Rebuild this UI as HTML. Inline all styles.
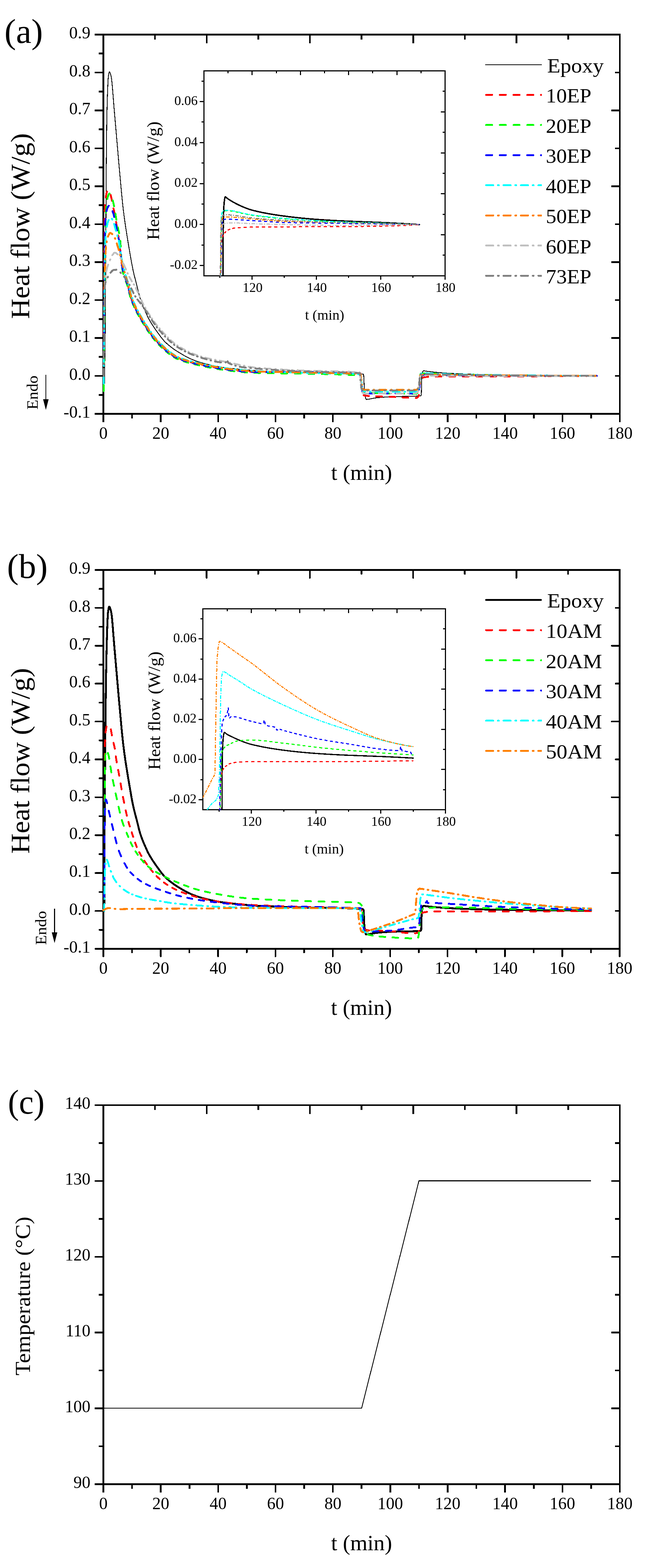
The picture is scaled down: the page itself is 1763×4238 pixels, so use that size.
<!DOCTYPE html>
<html lang="en"><head><meta charset="utf-8"><title>Heat flow figure</title>
<style>html,body{margin:0;padding:0;background:#fff}svg{display:block}</style></head>
<body>
<svg width="1763" height="4238" viewBox="0 0 1763 4238" font-family='"Liberation Serif", serif' fill="#000">
<rect width="1763" height="4238" fill="#fff"/>
<defs>
<clipPath id="ca"><rect x="276.5" y="93.5" width="1399.5" height="1025.0"/></clipPath>
<clipPath id="cia"><rect x="551.5" y="191.5" width="652.0" height="555.3"/></clipPath>
<clipPath id="cb"><rect x="276.5" y="1540.5" width="1399.0" height="1024.0"/></clipPath>
<clipPath id="cib"><rect x="548.6" y="1645.5" width="655.9" height="544.5"/></clipPath>
</defs>
<text x="12" y="115.7" font-size="94" text-anchor="start" textLength="104" lengthAdjust="spacingAndGlyphs">(a)</text>
<line x1="277.2" y1="93.5" x2="1678.3" y2="93.5" stroke="#000" stroke-width="4.6" stroke-linecap="butt" shape-rendering="crispEdges"/>
<line x1="277.2" y1="1118.5" x2="1678.3" y2="1118.5" stroke="#000" stroke-width="4.6" stroke-linecap="butt" shape-rendering="crispEdges"/>
<line x1="279.5" y1="91.2" x2="279.5" y2="1120.8" stroke="#000" stroke-width="4.6" stroke-linecap="butt" shape-rendering="crispEdges"/>
<line x1="1676" y1="91.2" x2="1676" y2="1120.8" stroke="#000" stroke-width="4.6" stroke-linecap="butt" shape-rendering="crispEdges"/>
<line x1="279.5" y1="1118.5" x2="279.5" y2="1141" stroke="#000" stroke-width="4.6" stroke-linecap="butt" shape-rendering="crispEdges"/>
<line x1="434.67" y1="1118.5" x2="434.67" y2="1141" stroke="#000" stroke-width="4.6" stroke-linecap="butt" shape-rendering="crispEdges"/>
<line x1="589.83" y1="1118.5" x2="589.83" y2="1141" stroke="#000" stroke-width="4.6" stroke-linecap="butt" shape-rendering="crispEdges"/>
<line x1="745" y1="1118.5" x2="745" y2="1141" stroke="#000" stroke-width="4.6" stroke-linecap="butt" shape-rendering="crispEdges"/>
<line x1="900.17" y1="1118.5" x2="900.17" y2="1141" stroke="#000" stroke-width="4.6" stroke-linecap="butt" shape-rendering="crispEdges"/>
<line x1="1055.33" y1="1118.5" x2="1055.33" y2="1141" stroke="#000" stroke-width="4.6" stroke-linecap="butt" shape-rendering="crispEdges"/>
<line x1="1210.5" y1="1118.5" x2="1210.5" y2="1141" stroke="#000" stroke-width="4.6" stroke-linecap="butt" shape-rendering="crispEdges"/>
<line x1="1365.67" y1="1118.5" x2="1365.67" y2="1141" stroke="#000" stroke-width="4.6" stroke-linecap="butt" shape-rendering="crispEdges"/>
<line x1="1520.83" y1="1118.5" x2="1520.83" y2="1141" stroke="#000" stroke-width="4.6" stroke-linecap="butt" shape-rendering="crispEdges"/>
<line x1="1676" y1="1118.5" x2="1676" y2="1141" stroke="#000" stroke-width="4.6" stroke-linecap="butt" shape-rendering="crispEdges"/>
<line x1="357.08" y1="1118.5" x2="357.08" y2="1130.5" stroke="#000" stroke-width="4.6" stroke-linecap="butt" shape-rendering="crispEdges"/>
<line x1="512.25" y1="1118.5" x2="512.25" y2="1130.5" stroke="#000" stroke-width="4.6" stroke-linecap="butt" shape-rendering="crispEdges"/>
<line x1="667.42" y1="1118.5" x2="667.42" y2="1130.5" stroke="#000" stroke-width="4.6" stroke-linecap="butt" shape-rendering="crispEdges"/>
<line x1="822.58" y1="1118.5" x2="822.58" y2="1130.5" stroke="#000" stroke-width="4.6" stroke-linecap="butt" shape-rendering="crispEdges"/>
<line x1="977.75" y1="1118.5" x2="977.75" y2="1130.5" stroke="#000" stroke-width="4.6" stroke-linecap="butt" shape-rendering="crispEdges"/>
<line x1="1132.92" y1="1118.5" x2="1132.92" y2="1130.5" stroke="#000" stroke-width="4.6" stroke-linecap="butt" shape-rendering="crispEdges"/>
<line x1="1288.08" y1="1118.5" x2="1288.08" y2="1130.5" stroke="#000" stroke-width="4.6" stroke-linecap="butt" shape-rendering="crispEdges"/>
<line x1="1443.25" y1="1118.5" x2="1443.25" y2="1130.5" stroke="#000" stroke-width="4.6" stroke-linecap="butt" shape-rendering="crispEdges"/>
<line x1="1598.42" y1="1118.5" x2="1598.42" y2="1130.5" stroke="#000" stroke-width="4.6" stroke-linecap="butt" shape-rendering="crispEdges"/>
<line x1="279.5" y1="1118.5" x2="256" y2="1118.5" stroke="#000" stroke-width="4.6" stroke-linecap="butt" shape-rendering="crispEdges"/>
<line x1="279.5" y1="1016" x2="256" y2="1016" stroke="#000" stroke-width="4.6" stroke-linecap="butt" shape-rendering="crispEdges"/>
<line x1="279.5" y1="913.5" x2="256" y2="913.5" stroke="#000" stroke-width="4.6" stroke-linecap="butt" shape-rendering="crispEdges"/>
<line x1="279.5" y1="811" x2="256" y2="811" stroke="#000" stroke-width="4.6" stroke-linecap="butt" shape-rendering="crispEdges"/>
<line x1="279.5" y1="708.5" x2="256" y2="708.5" stroke="#000" stroke-width="4.6" stroke-linecap="butt" shape-rendering="crispEdges"/>
<line x1="279.5" y1="606" x2="256" y2="606" stroke="#000" stroke-width="4.6" stroke-linecap="butt" shape-rendering="crispEdges"/>
<line x1="279.5" y1="503.5" x2="256" y2="503.5" stroke="#000" stroke-width="4.6" stroke-linecap="butt" shape-rendering="crispEdges"/>
<line x1="279.5" y1="401" x2="256" y2="401" stroke="#000" stroke-width="4.6" stroke-linecap="butt" shape-rendering="crispEdges"/>
<line x1="279.5" y1="298.5" x2="256" y2="298.5" stroke="#000" stroke-width="4.6" stroke-linecap="butt" shape-rendering="crispEdges"/>
<line x1="279.5" y1="196" x2="256" y2="196" stroke="#000" stroke-width="4.6" stroke-linecap="butt" shape-rendering="crispEdges"/>
<line x1="279.5" y1="93.5" x2="256" y2="93.5" stroke="#000" stroke-width="4.6" stroke-linecap="butt" shape-rendering="crispEdges"/>
<line x1="279.5" y1="1067.25" x2="266.5" y2="1067.25" stroke="#000" stroke-width="4.6" stroke-linecap="butt" shape-rendering="crispEdges"/>
<line x1="279.5" y1="964.75" x2="266.5" y2="964.75" stroke="#000" stroke-width="4.6" stroke-linecap="butt" shape-rendering="crispEdges"/>
<line x1="279.5" y1="862.25" x2="266.5" y2="862.25" stroke="#000" stroke-width="4.6" stroke-linecap="butt" shape-rendering="crispEdges"/>
<line x1="279.5" y1="759.75" x2="266.5" y2="759.75" stroke="#000" stroke-width="4.6" stroke-linecap="butt" shape-rendering="crispEdges"/>
<line x1="279.5" y1="657.25" x2="266.5" y2="657.25" stroke="#000" stroke-width="4.6" stroke-linecap="butt" shape-rendering="crispEdges"/>
<line x1="279.5" y1="554.75" x2="266.5" y2="554.75" stroke="#000" stroke-width="4.6" stroke-linecap="butt" shape-rendering="crispEdges"/>
<line x1="279.5" y1="452.25" x2="266.5" y2="452.25" stroke="#000" stroke-width="4.6" stroke-linecap="butt" shape-rendering="crispEdges"/>
<line x1="279.5" y1="349.75" x2="266.5" y2="349.75" stroke="#000" stroke-width="4.6" stroke-linecap="butt" shape-rendering="crispEdges"/>
<line x1="279.5" y1="247.25" x2="266.5" y2="247.25" stroke="#000" stroke-width="4.6" stroke-linecap="butt" shape-rendering="crispEdges"/>
<line x1="279.5" y1="144.75" x2="266.5" y2="144.75" stroke="#000" stroke-width="4.6" stroke-linecap="butt" shape-rendering="crispEdges"/>
<line x1="279.5" y1="93.5" x2="279.5" y2="117" stroke="#000" stroke-width="4.6" stroke-linecap="butt" shape-rendering="crispEdges"/>
<line x1="419.15" y1="93.5" x2="419.15" y2="106.5" stroke="#000" stroke-width="4.6" stroke-linecap="butt" shape-rendering="crispEdges"/>
<line x1="558.8" y1="93.5" x2="558.8" y2="117" stroke="#000" stroke-width="4.6" stroke-linecap="butt" shape-rendering="crispEdges"/>
<line x1="698.45" y1="93.5" x2="698.45" y2="106.5" stroke="#000" stroke-width="4.6" stroke-linecap="butt" shape-rendering="crispEdges"/>
<line x1="838.1" y1="93.5" x2="838.1" y2="117" stroke="#000" stroke-width="4.6" stroke-linecap="butt" shape-rendering="crispEdges"/>
<line x1="977.75" y1="93.5" x2="977.75" y2="106.5" stroke="#000" stroke-width="4.6" stroke-linecap="butt" shape-rendering="crispEdges"/>
<line x1="1117.4" y1="93.5" x2="1117.4" y2="117" stroke="#000" stroke-width="4.6" stroke-linecap="butt" shape-rendering="crispEdges"/>
<line x1="1257.05" y1="93.5" x2="1257.05" y2="106.5" stroke="#000" stroke-width="4.6" stroke-linecap="butt" shape-rendering="crispEdges"/>
<line x1="1396.7" y1="93.5" x2="1396.7" y2="117" stroke="#000" stroke-width="4.6" stroke-linecap="butt" shape-rendering="crispEdges"/>
<line x1="1536.35" y1="93.5" x2="1536.35" y2="106.5" stroke="#000" stroke-width="4.6" stroke-linecap="butt" shape-rendering="crispEdges"/>
<line x1="1676" y1="93.5" x2="1676" y2="117" stroke="#000" stroke-width="4.6" stroke-linecap="butt" shape-rendering="crispEdges"/>
<line x1="1676" y1="93.5" x2="1652.5" y2="93.5" stroke="#000" stroke-width="4.6" stroke-linecap="butt" shape-rendering="crispEdges"/>
<line x1="1676" y1="196" x2="1663" y2="196" stroke="#000" stroke-width="4.6" stroke-linecap="butt" shape-rendering="crispEdges"/>
<line x1="1676" y1="298.5" x2="1652.5" y2="298.5" stroke="#000" stroke-width="4.6" stroke-linecap="butt" shape-rendering="crispEdges"/>
<line x1="1676" y1="401" x2="1663" y2="401" stroke="#000" stroke-width="4.6" stroke-linecap="butt" shape-rendering="crispEdges"/>
<line x1="1676" y1="503.5" x2="1652.5" y2="503.5" stroke="#000" stroke-width="4.6" stroke-linecap="butt" shape-rendering="crispEdges"/>
<line x1="1676" y1="606" x2="1663" y2="606" stroke="#000" stroke-width="4.6" stroke-linecap="butt" shape-rendering="crispEdges"/>
<line x1="1676" y1="708.5" x2="1652.5" y2="708.5" stroke="#000" stroke-width="4.6" stroke-linecap="butt" shape-rendering="crispEdges"/>
<line x1="1676" y1="811" x2="1663" y2="811" stroke="#000" stroke-width="4.6" stroke-linecap="butt" shape-rendering="crispEdges"/>
<line x1="1676" y1="913.5" x2="1652.5" y2="913.5" stroke="#000" stroke-width="4.6" stroke-linecap="butt" shape-rendering="crispEdges"/>
<line x1="1676" y1="1016" x2="1663" y2="1016" stroke="#000" stroke-width="4.6" stroke-linecap="butt" shape-rendering="crispEdges"/>
<line x1="1676" y1="1118.5" x2="1652.5" y2="1118.5" stroke="#000" stroke-width="4.6" stroke-linecap="butt" shape-rendering="crispEdges"/>
<text x="244.5" y="1129.1" font-size="46" text-anchor="end">-0.1</text>
<text x="244.5" y="1026.6" font-size="46" text-anchor="end">0.0</text>
<text x="244.5" y="924.1" font-size="46" text-anchor="end">0.1</text>
<text x="244.5" y="821.6" font-size="46" text-anchor="end">0.2</text>
<text x="244.5" y="719.1" font-size="46" text-anchor="end">0.3</text>
<text x="244.5" y="616.6" font-size="46" text-anchor="end">0.4</text>
<text x="244.5" y="514.1" font-size="46" text-anchor="end">0.5</text>
<text x="244.5" y="411.6" font-size="46" text-anchor="end">0.6</text>
<text x="244.5" y="309.1" font-size="46" text-anchor="end">0.7</text>
<text x="244.5" y="206.6" font-size="46" text-anchor="end">0.8</text>
<text x="244.5" y="104.1" font-size="46" text-anchor="end">0.9</text>
<text x="279.5" y="1186" font-size="46" text-anchor="middle">0</text>
<text x="434.67" y="1186" font-size="46" text-anchor="middle">20</text>
<text x="589.83" y="1186" font-size="46" text-anchor="middle">40</text>
<text x="745" y="1186" font-size="46" text-anchor="middle">60</text>
<text x="900.17" y="1186" font-size="46" text-anchor="middle">80</text>
<text x="1055.33" y="1186" font-size="46" text-anchor="middle">100</text>
<text x="1210.5" y="1186" font-size="46" text-anchor="middle">120</text>
<text x="1365.67" y="1186" font-size="46" text-anchor="middle">140</text>
<text x="1520.83" y="1186" font-size="46" text-anchor="middle">160</text>
<text x="1676" y="1186" font-size="46" text-anchor="middle">180</text>
<text x="977.75" y="1297" font-size="59" text-anchor="middle" textLength="165" lengthAdjust="spacingAndGlyphs">t (min)</text>
<text transform="translate(79.2 611) rotate(-90)" font-size="72.5" text-anchor="middle" textLength="502" lengthAdjust="spacingAndGlyphs">Heat flow (W/g)</text>
<text transform="translate(102 1107) rotate(-90)" font-size="42" text-anchor="start" textLength="92" lengthAdjust="spacingAndGlyphs">Endo</text>
<line x1="124" y1="1013" x2="124" y2="1083" stroke="#000" stroke-width="2" stroke-linecap="butt" shape-rendering="crispEdges"/>
<path d="M116.5 1079 L131.5 1079 L124 1108 Z" fill="#000"/>
<path d="M282.6 1036.5L284.45 898.49L285.46 757.73L287.1 471.52L288.6 336.97L289.2 304.69L289.97 275.56L290.9 246.08L291.84 223.53L292.46 212.92L293.08 206.25L294.59 196.88L295.19 194.73L295.79 193.95L296.24 194.12L296.69 194.59L297.74 196.72L298.95 200.47L300.45 206.25L301.53 212.32L302.77 222.89L304.48 241.9L308.52 293.17L321.71 445.13L329.15 526.54L331.48 549.62L333.65 568.86L336.29 589.42L339.08 609.26L345.91 652.33L352.38 690.67L356.21 712.15L359.57 729.22L362.94 743.95L370.59 773.31L376.48 797.24L378.92 805.63L381.81 814.47L386.85 827.93L394.85 846.29L400.24 857.9L405.18 867.01L412.6 879.12L421.41 892.04L435.02 910.73L439.5 916.42L443.68 921.25L446.77 924.47L451.42 928.85L460.89 936.85L470.82 944.17L482.45 951.76L497.3 960.61L510.44 967.55L522.19 972.81L534.86 977.4L543.2 979.98L552 982.41L574.16 987.68L593.87 991.56L603.18 993.05L611.64 994.17L648.8 998.16L672.23 1000.35L689.92 1001.61L721.41 1003.22L765.17 1004.94L831.11 1007.02L855.76 1007.49L911.41 1008.15L936.83 1008.71L960.86 1009.66L981.16 1010.93L981.78 1011.24L982.56 1012.01L983.18 1012.92L983.34 1013.63L983.8 1020.22L985.04 1050.08L985.51 1057L986.75 1066.47L987.99 1073.87L989.08 1078.04L989.7 1079.26L990.16 1079.55L993.71 1079.39L997.72 1078.9L1010.99 1076.29L1015.77 1075.54L1030.51 1074.08L1044.63 1072.98L1066.82 1071.96L1115.69 1071.1L1127.64 1070.55L1137.71 1069.78L1138.28 1069.24L1138.84 1068.06L1139.12 1067.25L1139.26 1065.79L1140.68 1016L1141.61 1009.41L1142.54 1005.71L1144.06 1003.23L1144.81 1002.5L1145.57 1002.17L1147.09 1002.27L1150.61 1002.96L1157.07 1003.85L1172.02 1005.6L1185.36 1006.92L1202.74 1008.34L1235.17 1010.01L1276.45 1011.47L1328.74 1012.77L1383.2 1013.69L1613.93 1016" fill="none" stroke="#000" stroke-width="2.2" stroke-linejoin="round" stroke-linecap="round" shape-rendering="crispEdges" clip-path="url(#ca)"/>
<path d="M280.43 1016L280.49 999.7M280.57 978.9L280.63 962.6M280.71 941.8L280.78 925.5M280.86 904.7L280.93 888.4M281.02 867.6L281.09 851.3M281.18 830.5L281.26 814.2M281.36 793.4L281.44 777.1M281.55 756.3L281.64 740M281.76 719.2L281.86 702.9M281.99 682.1L282.09 665.8M282.22 645L282.33 628.7M282.48 607.91L282.61 591.61M282.85 570.81L283.57 554.53M286.01 533.89L287.88 523.01L289.11 517.9M299.2 526.93L301.53 536.61L302.82 542.82M306.88 563.22L310.28 579.16M313.91 599.64L316.34 615.76M319.65 636.29L322.25 652.39M324.79 673.03L326.44 689.24M328.73 709.92L329.78 716.91L331.64 725.95M337.22 745.98L342.42 760.71M347.21 776.73L350.26 789.97M354.96 806.08L359.46 817.88M365.8 832.33L371.27 843.16M378.78 856.46L384.89 866.64M392.77 879.56L399.14 889.5M407.6 901.83L414.6 911.13M424.19 922.34L432.27 930.56M442.88 940.76L451.52 948.41M463.23 957.5L468.28 960.87L473.23 963.8M487.61 970.23L499.72 974.42M515.94 979L529.1 982.14M546.16 985.87L559.65 988.68M577.09 992.04L590.98 994.45M609.05 997.19L623.53 999M642.1 1001.24L656.77 1002.87M676.06 1004.38L692.01 1004.73M712.81 1004.73L729.11 1004.73M749.91 1004.73L766.21 1004.73M787.01 1004.73L803.31 1004.73M824.11 1004.73L840.35 1004.78M860.96 1004.98L877.01 1005.23M897.38 1005.66L913.26 1006.07M933.43 1006.71L949.16 1007.28M969.1 1008.13L973.11 1008.57L974.8 1008.97L975.4 1011.78L976.01 1017.52M977.4 1036.93L978.46 1052.18M983.25 1068.19L984.58 1068.87L985.97 1069.26L997.42 1070.31M1017.23 1071.3L1033.12 1071.71M1053.34 1072.29L1068.87 1073.06M1088.55 1074.19L1104.08 1074.95M1124.39 1075.45L1127.16 1075.26L1128.23 1074.76L1129.31 1073.94L1130.69 1072.36L1131.92 1070.45L1132.53 1069.3L1132.87 1067.64M1134.33 1048.29L1135.62 1033.29M1143.5 1020.37L1149.93 1019.08L1157.72 1018.28M1177.81 1017.57L1193.91 1017.38M1214.61 1017.28L1230.87 1017.24M1251.64 1017.2L1267.92 1017.18M1288.7 1017.16L1304.98 1017.15M1325.76 1017.13L1342.05 1017.11M1362.83 1017.1L1379.12 1017.09M1399.9 1017.07L1416.19 1017.06M1436.97 1017.03L1453.24 1017.01M1474 1016.97L1490.25 1016.92M1510.98 1016.85L1527.21 1016.78M1547.91 1016.68L1564.12 1016.59M1584.72 1016.39L1600.81 1016.18" fill="none" stroke="#ff0000" stroke-width="5" stroke-linejoin="round" stroke-linecap="round" shape-rendering="crispEdges" clip-path="url(#ca)"/>
<path d="M280.43 1057L280.57 1040.7M280.75 1019.9L280.9 1003.6M281.08 982.8L281.23 966.5M281.42 945.7L281.57 929.41M281.77 908.61L281.92 892.31M282.13 871.51L282.28 855.21M282.48 834.41L282.64 818.11M282.83 797.31L282.98 781.01M283.18 760.21L283.35 743.91M283.57 723.11L283.76 706.82M284.03 686.02L284.29 669.72M284.65 648.92L284.95 632.63M285.37 611.83L285.76 595.53M286.51 574.75L287.57 558.48M290.14 537.86L291.6 531.6L293 527.35L294.24 525.03L295.4 523.62L296.15 523.07M304.78 541.46L306.46 547.66L308.39 557.35M312.06 577.82L314.68 593.91M318.48 614.35L322.22 630.22M325.26 650.78L326.31 667.05M327.36 687.82L328.22 704.1M330.19 724.79L331.85 733.61L333.48 740.75M340.27 760.39L342.92 767L344.95 773.02M349.1 789.66L352.36 802.71M357.88 817.99L362.69 829.48M369.45 843.52L375.21 854.06M382.94 867.13L389.08 877.29M397.11 890.06L403.64 899.83M412.39 911.88L419.71 920.86M429.81 931.56L438.03 939.64M448.9 949.57L457.86 956.91M470.21 965.36L475.64 968.36L481.03 970.84M496.19 976.48L508.71 980.26M525.33 984.44L538.66 987.41M555.81 991.05L569.42 993.75M587.03 996.94L601.09 999.18M619.43 1001.64L634.04 1003.33M652.82 1005.35L667.79 1006.67M687.51 1007.76L703.4 1008.17M723.82 1008.55L739.89 1008.78M760.46 1009.01L776.58 1009.19M797.14 1009.43L813.19 1009.68M833.6 1010.07L849.58 1010.39M869.94 1010.83L885.86 1011.21M906.1 1011.76L921.9 1012.27M941.94 1013.03L957.55 1013.72M975.31 1016.76L976 1021.53L976.98 1031.39M978.73 1050.44L979.32 1055.09L979.93 1057.75L981.94 1060.03L983.98 1061.48M1003.65 1062.62L1019.73 1062.84M1040.38 1062.99L1056.5 1063.17M1076.93 1063.53L1092.93 1063.84M1113.45 1064.12L1125.85 1064.16L1127.23 1063.78L1128.48 1062.96M1133.8 1047.48L1135.13 1032.51M1136.39 1012.97L1136.56 1012.21L1137.47 1011.01L1138.38 1010.25L1139.44 1009.76L1143.62 1009.1L1148.73 1009.04M1168.99 1009.58L1184.58 1010.3M1204.49 1011.19L1220.32 1011.66M1240.61 1012.17L1256.55 1012.53M1276.94 1012.94L1292.97 1013.21M1313.46 1013.52L1329.54 1013.74M1350.08 1014L1366.19 1014.18M1386.78 1014.4L1402.93 1014.55M1423.55 1014.73L1439.73 1014.85M1460.39 1014.99L1476.58 1015.1M1497.25 1015.23L1513.44 1015.34M1534.1 1015.47L1550.3 1015.58M1570.96 1015.72L1587.15 1015.83M1607.82 1015.96L1613.93 1016" fill="none" stroke="#00ff00" stroke-width="5" stroke-linejoin="round" stroke-linecap="round" shape-rendering="crispEdges" clip-path="url(#ca)"/>
<path d="M280.43 1016L280.53 999.7M280.65 978.9L280.76 962.6M280.89 941.8L280.99 925.5M281.13 904.7L281.24 888.4M281.38 867.6L281.5 851.3M281.65 830.5L281.78 814.2M281.95 793.41L282.1 777.11M282.3 756.31L282.47 740.01M282.73 719.21L282.93 702.91M283.2 682.11L283.43 665.81M283.74 645.02L284.02 628.72M284.47 607.92L284.78 598.7L285.22 591.64M287.82 571.02L289.28 565.68L290.67 561.78L292.22 558.6L294.02 556.11M304.27 571L306.64 577.62L308.93 586.6M313.39 606.91L316.62 622.89M320.53 643.32L323.28 659.38M325.7 680.04L327.25 696.27M329.61 716.93L331.16 724.92L332.99 732.87M339.13 752.73L343.92 766.29M348.37 782.64L351.43 795.88M356.58 811.53L361.23 823.18M367.78 837.42L373.4 848.11M381.04 861.27L387.16 871.45M395.11 884.3L401.55 894.15M410.16 906.35L417.3 915.51M427.17 926.44L435.32 934.59M446.05 944.66L454.84 952.17M466.84 960.97L472.15 964.22L477.21 966.9M492.03 972.88L504.35 976.85M520.79 981.22L534.05 984.26M551.15 987.96L564.7 990.71M582.22 993.99L596.19 996.32M614.39 998.92L628.94 1000.67M647.51 1002.89L662.29 1004.42M681.87 1005.64L698.06 1005.75M718.86 1005.75L735.16 1005.75M755.96 1005.75L772.26 1005.75M793.06 1005.75L809.36 1005.75M830.15 1005.76L846.36 1005.85M866.92 1006.08L882.95 1006.36M903.28 1006.83L919.14 1007.27M939.27 1007.94L954.98 1008.53M974.49 1009.82L974.95 1010.32L975.4 1012.43L976.6 1024M978.1 1043.31L979.02 1053.36L979.71 1058M995.36 1063.15L1011.66 1063.15M1032.46 1063.15L1048.76 1063.15M1069.56 1063.15L1085.86 1063.15M1106.66 1063.15L1122.96 1063.15M1133.44 1052.83L1135.12 1038.21M1136.55 1018.84L1136.95 1016.31L1138.04 1014.8L1139.12 1013.98L1142.23 1013.51L1147.34 1013.34M1168.01 1013.47L1184.1 1013.68M1204.6 1013.98L1220.7 1014.18M1241.22 1014.46L1257.3 1014.68M1277.88 1014.9L1294.07 1015.01M1314.77 1015.1L1331.01 1015.17M1351.74 1015.23L1368 1015.28M1388.74 1015.34L1404.99 1015.39M1425.73 1015.45L1441.99 1015.49M1462.74 1015.54L1479 1015.58M1499.75 1015.63L1516 1015.68M1536.74 1015.74L1552.99 1015.79M1573.72 1015.86L1589.96 1015.92M1610.69 1015.99L1613.93 1016" fill="none" stroke="#0000ff" stroke-width="5" stroke-linejoin="round" stroke-linecap="round" shape-rendering="crispEdges" clip-path="url(#ca)"/>
<path d="M280.43 1036.5L280.55 1017.4M280.63 1004.5L280.64 1002.3M280.72 989.4L280.84 970.3M280.92 957.4L280.94 955.2M281.02 942.3L281.15 923.2M281.24 910.3L281.25 908.1M281.34 895.2L281.48 876.1M281.57 863.2L281.59 861M281.69 848.1L281.85 829M281.96 816.11L281.98 813.91M282.1 801.01L282.31 781.91M282.47 769.01L282.5 766.81M282.7 753.91L283.02 734.81M283.25 721.91L283.29 719.72M283.54 706.82L283.95 687.72M284.26 674.83L284.32 672.63M284.69 659.73L285.45 640.65M286.53 627.79L286.78 625.61M288.87 612.88L290.31 605.98L291.66 600.64L292.86 597.05L294.09 594.59M302.69 591.57L303.82 593.45M308.55 605.4L313.63 623.82M317.05 636.25L317.73 638.34M321.31 650.73L322.48 657.2L324.19 669.6M325.97 682.38L326.32 684.55M328.4 697.28L330.34 708.23L331.95 716.05M335.09 728.56L335.68 730.68M339.44 743.02L344.58 758.76M347.55 768.69L348.03 770.41M350.58 780.76L354.27 796.17M357.54 805.8L358.13 807.41M361.75 816.69L367.59 829.95M371.87 838.57L372.63 840.01M377.2 848.34L384.27 860.36M389.13 868.41L389.96 869.78M394.87 877.77L402.36 889.38M407.59 897.04L408.5 898.33M413.97 905.77L422.53 916.31M428.74 923L429.83 924.1M436.28 930.55L446.08 939.86M452.93 945.91L454.12 946.91M461.3 952.63L467.12 956.79L472.7 960.34M481.17 964.77L482.7 965.44M491.96 969.08L498.89 971.48L506.34 973.79M516.45 976.58L518.21 977.03M528.6 979.53L544.25 982.99M554.88 985.25L556.7 985.63M567.44 987.8L583.53 990.8M594.56 992.67L596.46 992.98M607.66 994.67L624.59 996.85M636.2 998.13L638.19 998.34M649.92 999.52L667.47 1001.06M679.48 1001.95L681.54 1002.09M693.71 1002.82L711.86 1003.77M724.18 1004.35L726.29 1004.45M738.65 1004.98L757.03 1005.71M769.48 1006.16L771.61 1006.23M784.09 1006.65L802.61 1007.22M815.15 1007.59L817.29 1007.65M829.84 1007.99L848.53 1008.4M861.21 1008.63L863.37 1008.66M876.08 1008.86L894.89 1009.15M907.58 1009.36L909.74 1009.4M922.38 1009.65L941.01 1010.13M953.5 1010.54L955.62 1010.61M968 1011.13L972.35 1011.54L974.8 1012.02L975.55 1014.97L976.39 1021.84M977.49 1033.64L977.67 1035.66M978.83 1047.4L979.47 1051.9L980.08 1053.92L981.94 1055.93L983.65 1057.21L985.35 1057.91L987.29 1058.04M1000 1058.24L1002.17 1058.26M1014.97 1058.36L1034 1058.44M1046.85 1058.49L1049.04 1058.5M1061.85 1058.59L1080.77 1058.77M1093.55 1058.89L1095.73 1058.91M1108.54 1059L1125.31 1059.05L1127.05 1058.51M1132.4 1050.97L1132.79 1049.15M1134.38 1037.85L1135.46 1019.83M1138.27 1009.74L1140.01 1009.28M1152.4 1008.88L1170.92 1009.46M1183.25 1010.03L1185.35 1010.14M1197.67 1010.71L1216.15 1011.34M1228.72 1011.67L1230.86 1011.72M1243.46 1012.03L1262.15 1012.44M1274.8 1012.69L1276.96 1012.73M1289.63 1012.95L1308.43 1013.26M1321.13 1013.45L1323.3 1013.48M1336.02 1013.67L1354.87 1013.92M1367.61 1014.07L1369.78 1014.1M1382.54 1014.24L1401.45 1014.43M1414.24 1014.55L1416.42 1014.57M1429.22 1014.67L1448.18 1014.8M1461 1014.89L1463.18 1014.9M1476 1014.98L1494.98 1015.1M1507.79 1015.19L1509.98 1015.21M1522.79 1015.3L1541.75 1015.44M1554.55 1015.54L1556.73 1015.55M1569.53 1015.65L1588.49 1015.8M1601.29 1015.9L1603.47 1015.92" fill="none" stroke="#00ffff" stroke-width="5" stroke-linejoin="round" stroke-linecap="round" shape-rendering="crispEdges" clip-path="url(#ca)"/>
<path d="M280.43 1016L280.58 997.1M280.68 984L280.69 982M280.79 968.9L280.94 950M281.05 936.9L281.07 934.9M281.17 921.8L281.34 902.9M281.45 889.8L281.47 887.8M281.59 874.7L281.77 855.81M281.91 842.71L281.93 840.71M282.08 827.61L282.32 808.71M282.52 795.61L282.55 793.61M282.79 780.51L283.15 761.62M283.43 748.52L283.47 746.52M283.77 733.42L284.25 714.53M284.64 701.44L284.71 699.44M285.22 686.35L285.71 677.75L286.59 667.5M288.36 654.52L288.73 652.56M291.82 639.83L293.01 636.66L294.86 633.08L296.26 630.88L297.34 629.82L298.43 629.59L299.98 630.1L301.53 631.18L303.48 633.02M310.93 643.7L311.77 645.51M315.78 657.96L321.35 676.02M324.92 688.62L325.38 690.56M328.23 703.35L329.93 710.55L332.88 721.67M336.48 734.26L337.05 736.18M340.79 748.73L345.19 763.86M347.98 774.17L348.38 775.77M350.83 786.41L352.97 795.3L354.81 801.33M358.3 810.95L358.85 812.39M362.64 821.71L368.59 834.65M373.05 843.29L373.76 844.59M378.49 852.96L385.55 864.79M390.49 872.96L391.25 874.2M396.28 882.26L403.78 893.67M409.17 901.37L410.01 902.53M415.66 909.98L420 915.3L424.33 920.21M430.77 926.87L431.77 927.87M438.37 934.37L448.17 943.47M455.24 949.5L456.35 950.4M463.8 956.05L469.75 960.04L475.41 963.33M484.37 967.48L485.79 968.05M495.36 971.58L509.81 976.03M520.2 978.74L521.81 979.14M532.44 981.6L547.96 984.98M558.8 987.25L560.46 987.58M571.41 989.74L587.41 992.64M598.67 994.47L600.4 994.74M611.86 996.38L628.71 998.43M640.5 999.75L642.3 999.94M654.19 1001.15L671.61 1002.63M683.93 1003.41L685.84 1003.5M698.44 1004L716.76 1004.59M729.52 1004.93L731.47 1004.98M744.28 1005.27L762.81 1005.63M775.68 1005.87L777.64 1005.9M790.51 1006.14L809.06 1006.49M821.88 1006.76L823.84 1006.8M836.68 1007.07L855.25 1007.39M868.15 1007.6L870.12 1007.63M883.01 1007.83L901.6 1008.15M914.44 1008.4L916.4 1008.44M929.19 1008.75L947.54 1009.3M960.18 1009.77L962.1 1009.84M974.24 1010.8L974.65 1010.88L974.95 1011.25L975.55 1013.72L977.09 1026.85M978.26 1038.78L978.46 1040.58M981.12 1051.02L983.34 1052.93L985.51 1053.85L997.12 1053.92M1010.22 1053.92L1012.22 1053.92M1025.32 1053.92L1044.22 1053.92M1057.32 1053.92L1059.32 1053.92M1072.42 1053.92L1091.32 1053.92M1104.42 1053.92L1106.42 1053.92M1119.52 1053.92L1125.31 1053.92L1126.69 1053.53L1127.92 1052.68L1129.15 1051.44L1131.94 1047.45M1134.51 1036.91L1134.66 1035.07M1135.43 1022.74L1136.03 1015.59L1136.62 1014.48L1137.81 1013.32L1139.01 1012.7L1143.82 1012.22M1156.8 1012.21L1158.78 1012.23M1171.68 1012.43L1190.18 1012.83M1203.01 1013.1L1204.97 1013.14M1217.86 1013.35L1236.45 1013.66M1249.33 1013.87L1251.3 1013.9M1264.21 1014.09L1282.89 1014.31M1295.89 1014.42L1297.87 1014.43M1310.88 1014.52L1329.68 1014.63M1342.71 1014.7L1344.7 1014.71M1357.74 1014.77L1376.56 1014.85M1389.6 1014.91L1391.59 1014.92M1404.63 1014.98L1423.44 1015.06M1436.49 1015.12L1438.48 1015.13M1451.52 1015.18L1470.34 1015.26M1483.39 1015.32L1485.38 1015.33M1498.42 1015.38L1517.24 1015.47M1530.27 1015.53L1532.26 1015.54M1545.29 1015.61L1564.09 1015.71M1577.12 1015.79L1579.11 1015.8M1592.13 1015.87L1610.92 1015.98" fill="none" stroke="#ff8000" stroke-width="5.2" stroke-linejoin="round" stroke-linecap="round" shape-rendering="crispEdges" clip-path="url(#ca)"/>
<path d="M280.43 1016L280.58 996.9M280.68 984L280.69 981.8M280.8 968.9L280.95 949.8M281.06 936.9L281.08 934.7M281.2 921.8L281.38 902.7M281.51 889.8L281.53 887.6M281.68 874.71L281.91 855.61M282.08 842.71L282.11 840.51M282.28 827.61L282.55 808.51M282.75 795.61L282.79 793.41M283.04 780.52L283.38 770L283.91 761.44M285.09 748.59L285.37 746.41M287.45 733.68L289.59 724.15L292.29 715.22M297.23 703.31L298.13 701.3M303.78 689.73L307.59 684.63L308.98 683.41L310.22 682.9L311.77 683.04L313.64 683.84L315.65 685.27L318.18 687.6M326 697.78L327.04 699.72M332.72 711.3L337.07 720.22L340.81 728.6M344.89 738.02L345.57 739.54M349.75 748.26L352.86 753.94L356.71 760.4M361.61 768.4L362.43 769.78M367.08 778.03L373.27 790.94M377.2 799.91L377.87 801.44M381.79 810.42L387.91 823.4M392.5 831.71L393.3 833.1M398.09 841.22L405.42 852.99M410.56 860.74L411.46 862.05M416.81 869.6L425.1 880.41M431 887.41L432.02 888.59M438.06 895.44L447.22 905.39M453.59 911.92L454.69 913.01M461.3 919.31L466.5 923.93L471.58 928.13M478.99 933.62L480.3 934.51M488.28 939.43L500.58 946.23M509.19 950.52L510.69 951.22M519.62 955.19L533.4 960.51M543.13 963.68L544.82 964.19M554.97 966.94L570.55 970.45M581.34 972.57L583.19 972.91M594.09 974.92L610.13 977.97M620.8 980.21L622.61 980.6M633.17 982.94L648.81 986.4M659.48 988.63L661.32 988.99M672.22 990.99L680.84 992.34L688.93 993.37M700.7 994.51L702.72 994.69M714.62 995.69L732.39 997.02M744.48 997.83L746.55 997.96M758.73 998.68L776.87 999.64M789.18 1000.23L791.28 1000.33M803.64 1000.87L821.98 1001.63M834.43 1002.08L836.56 1002.15M849.09 1002.51L867.75 1002.96M880.38 1003.23L882.54 1003.27M895.18 1003.53L913.85 1003.96M926.4 1004.31L928.54 1004.37M941.01 1004.8L959.31 1005.6M971.35 1006.46L973.17 1006.84M974.75 1018.15L976.08 1035.93M976.99 1047.92L977.17 1049.94M979.65 1060.36L981.78 1062.18L983.96 1063.08L995.96 1063.15M1008.86 1063.15L1011.06 1063.15M1023.96 1063.15L1043.06 1063.15M1055.96 1063.15L1058.16 1063.15M1071.06 1063.15L1090.16 1063.15M1103.06 1063.15L1105.26 1063.15M1118.16 1063.15L1124.54 1063.15L1126.07 1062.75L1127.3 1061.95L1128.52 1060.72L1129.75 1059.07L1131.02 1056.91M1132.75 1045.74L1132.96 1043.76M1134.09 1031.98L1134.83 1022.19L1135.26 1018.76L1135.4 1018.36L1136.18 1017.51L1137.64 1016.43M1149.42 1015.31L1151.57 1015.26M1164.38 1015.19L1183.34 1015.33M1196.1 1015.46L1198.28 1015.49M1211.07 1015.59L1230.06 1015.71M1242.89 1015.78L1245.07 1015.79M1257.91 1015.86L1276.92 1015.95M1289.76 1016.01L1291.95 1016.02M1304.79 1016.08L1323.8 1016.17M1336.64 1016.23L1338.83 1016.24M1351.68 1016.29L1370.71 1016.36M1383.58 1016.39L1385.78 1016.39M1398.66 1016.41L1417.76 1016.41M1430.65 1016.4L1432.85 1016.4M1445.74 1016.39L1464.83 1016.38M1477.71 1016.36L1479.91 1016.36M1492.79 1016.35L1511.87 1016.32M1524.75 1016.3L1526.95 1016.3M1539.82 1016.27L1558.86 1016.22M1571.72 1016.17L1573.91 1016.16M1586.76 1016.11L1605.78 1016.04" fill="none" stroke="#c0c0c0" stroke-width="5" stroke-linejoin="round" stroke-linecap="round" shape-rendering="crispEdges" clip-path="url(#ca)"/>
<path d="M280.43 1016L280.57 997.1M280.67 984L280.69 982M280.79 968.9L280.95 950M281.06 936.9L281.07 934.9M281.19 921.8L281.37 902.9M281.5 889.8L281.53 887.8M281.67 874.71L281.91 855.81M282.08 842.71L282.11 840.71M282.28 827.61L282.55 808.71M282.76 795.61L282.8 793.61M283.1 780.52L283.38 774.1L283.84 770.35L284.62 765.75L285.66 761.86M290.93 749.89L291.88 748.12M298.98 737.15L302.84 732.54L304.21 731.3L305.59 730.42L306.65 730.02L310.22 729.34L314.83 729.02M325.31 736.41L326.68 737.88M335.46 747.58L339.93 753.62L344.95 761.16M349.92 769.28L350.63 770.58M354.96 779.35L360.99 792.22M365.63 800.68L366.41 801.9M371.81 809.6L380.17 820.14M385.91 827.5L386.76 828.65M392.13 836.38L399.57 847.84M404.63 855.87L405.41 857.1M410.51 865.1L418.09 876.41M423.67 883.94L424.56 885.05M430.59 892.12L439.51 902.09M445.85 908.85L446.84 909.87M453.37 916.43L463.22 925.49M470.42 931.39L471.55 932.26M479.25 937.65L491.14 944.67M499.69 949.22L501.01 949.89M509.86 954.14L523.14 959.77M532.74 963.27L534.24 963.77M544.25 966.85L558.9 971.11M569.14 973.97L570.72 974.39M581.29 976.91L589.72 978.48L597.63 979.48M609.98 979.62L610.46 979.39L611.06 978.69M615.76 976.63L616.52 979.73L616.99 980.64L621.64 982.98L626.28 985.01M635.99 988.4L637.54 988.85M648.17 991.32L655.93 992.58L664.76 993.63M676.81 994.69L678.66 994.84M690.71 995.88L708.05 997.45M720.19 998.41L722.05 998.54M734.29 999.4L752.1 1000.49M764.53 1001.16L766.43 1001.26M778.93 1001.87L797.03 1002.67M809.61 1003.18L811.53 1003.26M824.13 1003.76L842.42 1004.37M855.19 1004.71L857.14 1004.75M869.96 1005.04L888.48 1005.41M901.31 1005.68L903.27 1005.73M916.06 1006.03L934.41 1006.58M947.02 1007.07L948.94 1007.15M961.44 1007.76L968.13 1008.18L972.32 1008.83L972.62 1009.24L972.92 1010.32L973.58 1014.51M974.77 1026.42L974.93 1028.26M976.02 1040.27L976.84 1047.46L977.45 1050.65L977.75 1051.36L978.68 1052.45L980.83 1054.36M992.83 1055.46L994.83 1055.46M1007.93 1055.46L1026.83 1055.46M1039.93 1055.46L1041.93 1055.46M1055.03 1055.46L1073.93 1055.46M1087.03 1055.46L1089.03 1055.46M1102.13 1055.46L1121.03 1055.46M1129.81 1051.15L1130.6 1049.93M1133.37 1039.61L1133.82 1035.71L1134.65 1021.99M1137.75 1011.98L1139.33 1011.57M1151.98 1011.15L1170.51 1011.52M1183.21 1011.92L1185.14 1011.98M1197.83 1012.4L1216.3 1012.83M1229.16 1013.07L1231.12 1013.11M1244 1013.33L1262.61 1013.62M1275.53 1013.8L1277.51 1013.82M1290.45 1013.98L1309.15 1014.18M1322.11 1014.32L1324.09 1014.34M1337.07 1014.46L1355.8 1014.63M1368.8 1014.73L1370.78 1014.75M1383.79 1014.84L1402.57 1014.96M1415.59 1015.04L1417.58 1015.05M1430.62 1015.11L1449.44 1015.19M1462.49 1015.24L1464.48 1015.25M1477.53 1015.3L1496.35 1015.38M1509.4 1015.43L1511.39 1015.44M1524.42 1015.51L1543.23 1015.6M1556.26 1015.67L1558.25 1015.68M1571.28 1015.75L1590.07 1015.86M1603.09 1015.94L1605.08 1015.95" fill="none" stroke="#808080" stroke-width="5.2" stroke-linejoin="round" stroke-linecap="round" shape-rendering="crispEdges" clip-path="url(#ca)"/>
<path d="M1313.1 175L1463.9 175" fill="none" stroke="#000" stroke-width="2.2" stroke-linejoin="round" stroke-linecap="round" shape-rendering="crispEdges"/>
<text x="1479.5" y="195.8" font-size="54" text-anchor="start" textLength="153" lengthAdjust="spacingAndGlyphs">Epoxy</text>
<clipPath id="lg256"><rect x="1312" y="251.45" width="153" height="10"/></clipPath>
<path d="M1314.5 256.45L1330.8 256.45M1351.6 256.45L1367.9 256.45M1388.7 256.45L1405 256.45M1425.8 256.45L1442.1 256.45M1462.9 256.45L1475 256.45" fill="none" stroke="#ff0000" stroke-width="5" stroke-linejoin="round" stroke-linecap="round" shape-rendering="crispEdges" clip-path="url(#lg256)"/>
<text x="1476" y="277.25" font-size="54" text-anchor="start" textLength="123" lengthAdjust="spacingAndGlyphs">10EP</text>
<clipPath id="lg337"><rect x="1312" y="332.9" width="153" height="10"/></clipPath>
<path d="M1314.5 337.9L1330.8 337.9M1351.6 337.9L1367.9 337.9M1388.7 337.9L1405 337.9M1425.8 337.9L1442.1 337.9M1462.9 337.9L1475 337.9" fill="none" stroke="#00ff00" stroke-width="5" stroke-linejoin="round" stroke-linecap="round" shape-rendering="crispEdges" clip-path="url(#lg337)"/>
<text x="1476" y="358.7" font-size="54" text-anchor="start" textLength="123" lengthAdjust="spacingAndGlyphs">20EP</text>
<clipPath id="lg419"><rect x="1312" y="414.35" width="153" height="10"/></clipPath>
<path d="M1314.5 419.35L1330.8 419.35M1351.6 419.35L1367.9 419.35M1388.7 419.35L1405 419.35M1425.8 419.35L1442.1 419.35M1462.9 419.35L1475 419.35" fill="none" stroke="#0000ff" stroke-width="5" stroke-linejoin="round" stroke-linecap="round" shape-rendering="crispEdges" clip-path="url(#lg419)"/>
<text x="1476" y="440.15" font-size="54" text-anchor="start" textLength="123" lengthAdjust="spacingAndGlyphs">30EP</text>
<clipPath id="lg500"><rect x="1312" y="495.8" width="153" height="10"/></clipPath>
<path d="M1314.5 500.8L1333.6 500.8M1346.5 500.8L1348.7 500.8M1361.6 500.8L1380.7 500.8M1393.6 500.8L1395.8 500.8M1408.7 500.8L1427.8 500.8M1440.7 500.8L1442.9 500.8M1455.8 500.8L1474.9 500.8" fill="none" stroke="#00ffff" stroke-width="5" stroke-linejoin="round" stroke-linecap="round" shape-rendering="crispEdges" clip-path="url(#lg500)"/>
<text x="1476" y="521.6" font-size="54" text-anchor="start" textLength="123" lengthAdjust="spacingAndGlyphs">40EP</text>
<clipPath id="lg582"><rect x="1312" y="577.25" width="153" height="10"/></clipPath>
<path d="M1314.6 582.25L1333.5 582.25M1346.6 582.25L1348.6 582.25M1361.7 582.25L1380.6 582.25M1393.7 582.25L1395.7 582.25M1408.8 582.25L1427.7 582.25M1440.8 582.25L1442.8 582.25M1455.9 582.25L1474.8 582.25" fill="none" stroke="#ff8000" stroke-width="5.2" stroke-linejoin="round" stroke-linecap="round" shape-rendering="crispEdges" clip-path="url(#lg582)"/>
<text x="1476" y="603.05" font-size="54" text-anchor="start" textLength="123" lengthAdjust="spacingAndGlyphs">50EP</text>
<clipPath id="lg663"><rect x="1312" y="658.7" width="153" height="10"/></clipPath>
<path d="M1314.5 663.7L1333.6 663.7M1346.5 663.7L1348.7 663.7M1361.6 663.7L1380.7 663.7M1393.6 663.7L1395.8 663.7M1408.7 663.7L1427.8 663.7M1440.7 663.7L1442.9 663.7M1455.8 663.7L1474.9 663.7" fill="none" stroke="#c0c0c0" stroke-width="5" stroke-linejoin="round" stroke-linecap="round" shape-rendering="crispEdges" clip-path="url(#lg663)"/>
<text x="1476" y="684.5" font-size="54" text-anchor="start" textLength="123" lengthAdjust="spacingAndGlyphs">60EP</text>
<clipPath id="lg745"><rect x="1312" y="740.15" width="153" height="10"/></clipPath>
<path d="M1314.6 745.15L1333.5 745.15M1346.6 745.15L1348.6 745.15M1361.7 745.15L1380.6 745.15M1393.7 745.15L1395.7 745.15M1408.8 745.15L1427.7 745.15M1440.8 745.15L1442.8 745.15M1455.9 745.15L1474.8 745.15" fill="none" stroke="#808080" stroke-width="5.2" stroke-linejoin="round" stroke-linecap="round" shape-rendering="crispEdges" clip-path="url(#lg745)"/>
<text x="1476" y="765.95" font-size="54" text-anchor="start" textLength="123" lengthAdjust="spacingAndGlyphs">73EP</text>
<rect x="551.5" y="191.5" width="652.0" height="553.8" fill="#fff"/>
<line x1="550" y1="191.5" x2="1205" y2="191.5" stroke="#000" stroke-width="3" stroke-linecap="butt" shape-rendering="crispEdges"/>
<line x1="550" y1="745.3" x2="1205" y2="745.3" stroke="#000" stroke-width="3" stroke-linecap="butt" shape-rendering="crispEdges"/>
<line x1="551.5" y1="190" x2="551.5" y2="746.8" stroke="#000" stroke-width="3" stroke-linecap="butt" shape-rendering="crispEdges"/>
<line x1="1203.5" y1="190" x2="1203.5" y2="746.8" stroke="#000" stroke-width="3" stroke-linecap="butt" shape-rendering="crispEdges"/>
<line x1="681.9" y1="745.3" x2="681.9" y2="755.8" stroke="#000" stroke-width="3" stroke-linecap="butt" shape-rendering="crispEdges"/>
<line x1="855.77" y1="745.3" x2="855.77" y2="755.8" stroke="#000" stroke-width="3" stroke-linecap="butt" shape-rendering="crispEdges"/>
<line x1="1029.63" y1="745.3" x2="1029.63" y2="755.8" stroke="#000" stroke-width="3" stroke-linecap="butt" shape-rendering="crispEdges"/>
<line x1="1203.5" y1="745.3" x2="1203.5" y2="755.8" stroke="#000" stroke-width="3" stroke-linecap="butt" shape-rendering="crispEdges"/>
<line x1="594.97" y1="745.3" x2="594.97" y2="750.8" stroke="#000" stroke-width="3" stroke-linecap="butt" shape-rendering="crispEdges"/>
<line x1="768.83" y1="745.3" x2="768.83" y2="750.8" stroke="#000" stroke-width="3" stroke-linecap="butt" shape-rendering="crispEdges"/>
<line x1="942.7" y1="745.3" x2="942.7" y2="750.8" stroke="#000" stroke-width="3" stroke-linecap="butt" shape-rendering="crispEdges"/>
<line x1="1116.57" y1="745.3" x2="1116.57" y2="750.8" stroke="#000" stroke-width="3" stroke-linecap="butt" shape-rendering="crispEdges"/>
<line x1="551.5" y1="717.61" x2="540" y2="717.61" stroke="#000" stroke-width="3" stroke-linecap="butt" shape-rendering="crispEdges"/>
<line x1="551.5" y1="606.85" x2="540" y2="606.85" stroke="#000" stroke-width="3" stroke-linecap="butt" shape-rendering="crispEdges"/>
<line x1="551.5" y1="496.09" x2="540" y2="496.09" stroke="#000" stroke-width="3" stroke-linecap="butt" shape-rendering="crispEdges"/>
<line x1="551.5" y1="385.33" x2="540" y2="385.33" stroke="#000" stroke-width="3" stroke-linecap="butt" shape-rendering="crispEdges"/>
<line x1="551.5" y1="274.57" x2="540" y2="274.57" stroke="#000" stroke-width="3" stroke-linecap="butt" shape-rendering="crispEdges"/>
<line x1="551.5" y1="662.23" x2="545" y2="662.23" stroke="#000" stroke-width="3" stroke-linecap="butt" shape-rendering="crispEdges"/>
<line x1="551.5" y1="551.47" x2="545" y2="551.47" stroke="#000" stroke-width="3" stroke-linecap="butt" shape-rendering="crispEdges"/>
<line x1="551.5" y1="440.71" x2="545" y2="440.71" stroke="#000" stroke-width="3" stroke-linecap="butt" shape-rendering="crispEdges"/>
<line x1="551.5" y1="329.95" x2="545" y2="329.95" stroke="#000" stroke-width="3" stroke-linecap="butt" shape-rendering="crispEdges"/>
<line x1="551.5" y1="219.19" x2="545" y2="219.19" stroke="#000" stroke-width="3" stroke-linecap="butt" shape-rendering="crispEdges"/>
<line x1="551.5" y1="191.5" x2="551.5" y2="203" stroke="#000" stroke-width="3" stroke-linecap="butt" shape-rendering="crispEdges"/>
<line x1="616.7" y1="191.5" x2="616.7" y2="198" stroke="#000" stroke-width="3" stroke-linecap="butt" shape-rendering="crispEdges"/>
<line x1="681.9" y1="191.5" x2="681.9" y2="203" stroke="#000" stroke-width="3" stroke-linecap="butt" shape-rendering="crispEdges"/>
<line x1="747.1" y1="191.5" x2="747.1" y2="198" stroke="#000" stroke-width="3" stroke-linecap="butt" shape-rendering="crispEdges"/>
<line x1="812.3" y1="191.5" x2="812.3" y2="203" stroke="#000" stroke-width="3" stroke-linecap="butt" shape-rendering="crispEdges"/>
<line x1="877.5" y1="191.5" x2="877.5" y2="198" stroke="#000" stroke-width="3" stroke-linecap="butt" shape-rendering="crispEdges"/>
<line x1="942.7" y1="191.5" x2="942.7" y2="203" stroke="#000" stroke-width="3" stroke-linecap="butt" shape-rendering="crispEdges"/>
<line x1="1007.9" y1="191.5" x2="1007.9" y2="198" stroke="#000" stroke-width="3" stroke-linecap="butt" shape-rendering="crispEdges"/>
<line x1="1073.1" y1="191.5" x2="1073.1" y2="203" stroke="#000" stroke-width="3" stroke-linecap="butt" shape-rendering="crispEdges"/>
<line x1="1138.3" y1="191.5" x2="1138.3" y2="198" stroke="#000" stroke-width="3" stroke-linecap="butt" shape-rendering="crispEdges"/>
<line x1="1203.5" y1="191.5" x2="1203.5" y2="203" stroke="#000" stroke-width="3" stroke-linecap="butt" shape-rendering="crispEdges"/>
<line x1="1203.5" y1="191.5" x2="1192" y2="191.5" stroke="#000" stroke-width="3" stroke-linecap="butt" shape-rendering="crispEdges"/>
<line x1="1203.5" y1="246.88" x2="1197" y2="246.88" stroke="#000" stroke-width="3" stroke-linecap="butt" shape-rendering="crispEdges"/>
<line x1="1203.5" y1="302.26" x2="1192" y2="302.26" stroke="#000" stroke-width="3" stroke-linecap="butt" shape-rendering="crispEdges"/>
<line x1="1203.5" y1="357.64" x2="1197" y2="357.64" stroke="#000" stroke-width="3" stroke-linecap="butt" shape-rendering="crispEdges"/>
<line x1="1203.5" y1="413.02" x2="1192" y2="413.02" stroke="#000" stroke-width="3" stroke-linecap="butt" shape-rendering="crispEdges"/>
<line x1="1203.5" y1="468.4" x2="1197" y2="468.4" stroke="#000" stroke-width="3" stroke-linecap="butt" shape-rendering="crispEdges"/>
<line x1="1203.5" y1="523.78" x2="1192" y2="523.78" stroke="#000" stroke-width="3" stroke-linecap="butt" shape-rendering="crispEdges"/>
<line x1="1203.5" y1="579.16" x2="1197" y2="579.16" stroke="#000" stroke-width="3" stroke-linecap="butt" shape-rendering="crispEdges"/>
<line x1="1203.5" y1="634.54" x2="1192" y2="634.54" stroke="#000" stroke-width="3" stroke-linecap="butt" shape-rendering="crispEdges"/>
<line x1="1203.5" y1="689.92" x2="1197" y2="689.92" stroke="#000" stroke-width="3" stroke-linecap="butt" shape-rendering="crispEdges"/>
<line x1="1203.5" y1="745.3" x2="1192" y2="745.3" stroke="#000" stroke-width="3" stroke-linecap="butt" shape-rendering="crispEdges"/>
<text x="534.5" y="726.91" font-size="36" text-anchor="end">-0.02</text>
<text x="534.5" y="616.15" font-size="36" text-anchor="end">0.00</text>
<text x="534.5" y="505.39" font-size="36" text-anchor="end">0.02</text>
<text x="534.5" y="394.63" font-size="36" text-anchor="end">0.04</text>
<text x="534.5" y="283.87" font-size="36" text-anchor="end">0.06</text>
<text x="682.9" y="788.5" font-size="36" text-anchor="middle">120</text>
<text x="856.77" y="788.5" font-size="36" text-anchor="middle">140</text>
<text x="1030.63" y="788.5" font-size="36" text-anchor="middle">160</text>
<text x="1204.5" y="788.5" font-size="36" text-anchor="middle">180</text>
<text x="877.77" y="863.9" font-size="38" text-anchor="middle" textLength="106" lengthAdjust="spacingAndGlyphs">t (min)</text>
<text transform="translate(430.1 488.4) rotate(-90)" font-size="47" text-anchor="middle" textLength="320" lengthAdjust="spacingAndGlyphs">Heat flow (W/g)</text>
<path d="M600.18 897.59L600.5 897.1L600.81 895.65L601.45 890.08L601.92 883.75L602.08 875.88L603.34 639.34L603.83 599.67L604.7 571.25L605.75 551.28L606.27 545.93L607.45 537.85L608.3 533.93L608.8 532.57L609.14 532.14L609.82 532.16L610.85 532.68L614.79 536.39L622.03 541.19L629.61 545.68L638.78 550.64L646.43 554.46L653.73 557.79L664.86 562.35L673.21 565.44L679.47 567.42L686.94 569.36L698.07 572L709.54 574.47L731.63 578.6L755.79 582.36L784.66 586.14L814.39 589.42L843.77 592.08L875.41 594.36L907.23 596.24L944.09 598.05L1018.33 600.84L1052.41 602.37L1092.4 604.43L1133.95 606.85" fill="none" stroke="#000" stroke-width="3.8" stroke-linejoin="round" stroke-linecap="round" shape-rendering="crispEdges" clip-path="url(#cia)"/>
<path d="M587.14 928.05L587.83 927.8L588.52 927.02L589.72 924.33M591.73 915.84L592.61 910.42M593.83 901.14L594.46 895.47M594.93 885.44L595.08 879.29M595.28 869L595.4 862.81M595.56 852.47L595.66 846.27M595.81 835.92L595.89 829.71M596.04 819.35L596.12 813.13M596.26 802.77L596.34 796.55M596.48 786.19L596.57 779.98M596.71 769.62L596.8 763.41M596.96 753.07L597.06 746.87M597.24 736.55L597.37 730.38M597.59 720.1L597.72 713.93M597.93 703.64L598.06 697.47M598.28 687.19L598.42 681.03M598.67 670.78L598.84 664.65M599.21 654.52L599.75 648.77M601.71 640.22L603.65 635.86M607.65 629.36L610.72 626.14M616.82 621.73L621.16 619.77M629.16 617.27L634.5 616.31M644.13 615.44L650 615.01M659.94 614.45L665.98 614.19M676.19 613.9L682.39 613.8M692.76 613.67L698.99 613.61M709.39 613.5L715.64 613.45M726.06 613.37L732.32 613.33M742.75 613.27L749.02 613.23M759.47 613.18L765.74 613.15M776.19 613.11L782.47 613.08M792.92 613.03L799.19 613.01M809.64 612.96L815.91 612.92M826.36 612.87L832.64 612.85M843.1 612.81L849.37 612.79M859.84 612.75L866.12 612.73M876.58 612.69L882.86 612.67M893.32 612.64L899.6 612.61M910.06 612.57L916.33 612.54M926.77 612.49L933.04 612.45M943.47 612.38L949.73 612.34M960.14 612.25L966.37 612.19M976.76 612.07L982.98 611.99M993.34 611.85L999.54 611.76M1009.88 611.59L1016.07 611.48M1026.37 611.28L1032.54 611.16M1042.82 610.93L1048.98 610.79M1059.23 610.54L1065.37 610.38M1075.59 610.1L1081.68 609.89M1091.73 609.44L1097.72 609.13M1107.65 608.56L1113.58 608.19M1123.44 607.55L1129.35 607.16" fill="none" stroke="#ff0000" stroke-width="3" stroke-linejoin="round" stroke-linecap="round" shape-rendering="crispEdges" clip-path="url(#cia)"/>
<path d="M586.71 867.14L587.4 866.85L587.91 866.26L589.21 863.34M591.21 854.84L592.11 849.44M593.37 840.19L594.03 834.55M594.64 824.67L594.87 818.6M595.19 808.42L595.36 802.28M595.61 792.04L595.76 785.89M595.99 775.62L596.12 769.45M596.34 759.17L596.47 752.99M596.68 742.71L596.8 736.53M597.01 726.24L597.12 720.05M597.27 709.7L597.36 703.48M597.49 693.11L597.56 686.89M597.68 676.51L597.75 670.28M597.86 659.89L597.93 653.66M598.05 643.28L598.12 637.05M598.25 626.68L598.33 620.46M598.47 610.1L598.57 603.9M598.77 593.6L598.99 587.52M600.38 578.41L601.09 575.77L601.95 573.68M608.04 569.26L614.12 569.33M623.72 570.23L629.2 571.05M638.03 572.72L643.21 573.84M651.75 575.81L656.85 577.01M665.41 578.94L670.63 580.03M679.56 581.6L685.1 582.36M694.39 583.57L699.98 584.27M709.34 585.42L714.98 586.08M724.41 587.14L730.1 587.76M739.62 588.74L745.36 589.3M754.97 590.18L760.77 590.69M770.48 591.47L776.33 591.92M786.11 592.65L791.99 593.07M801.8 593.75L807.71 594.15M817.57 594.79L823.5 595.16M833.4 595.75L839.35 596.1M849.3 596.66L855.27 596.98M865.25 597.5L871.25 597.8M881.27 598.29L887.29 598.57M897.34 599.01L903.38 599.27M913.47 599.69L919.53 599.92M929.65 600.3L935.73 600.52M945.88 600.87L951.98 601.08M962.15 601.41L968.25 601.6M978.43 601.92L984.54 602.11M994.73 602.43L1000.84 602.61M1011.02 602.93L1017.13 603.12M1027.3 603.45L1033.4 603.65M1043.57 603.98L1049.67 604.18M1059.84 604.51L1065.95 604.71M1076.12 605.03L1082.23 605.23M1092.4 605.55L1098.51 605.74M1108.69 606.06L1114.8 606.25M1124.98 606.57L1131.09 606.76" fill="none" stroke="#00ff00" stroke-width="3" stroke-linejoin="round" stroke-linecap="round" shape-rendering="crispEdges" clip-path="url(#cia)"/>
<path d="M587.14 861.6L587.66 861.44L588.35 860.72L589.64 857.79M591.64 849.29L592.53 843.89M593.8 834.65L594.46 829.01M595.09 819.14L595.32 813.07M595.64 802.9L595.81 796.77M596.08 786.54L596.23 780.39M596.47 770.13L596.61 763.97M596.84 753.7L596.98 747.53M597.21 737.26L597.35 731.1M597.56 720.82L597.67 714.62M597.83 704.28L597.92 698.07M598.06 687.72L598.15 681.5M598.29 671.14L598.37 664.92M598.51 654.57L598.6 648.35M598.75 638.01L598.85 631.81M599.05 621.5L599.19 615.35M599.87 605.53L600.76 600.11M604.79 593.64L607.31 592.82L609.91 592.47M620.26 592.58L626.36 592.78M636.37 593.27L642.31 593.63M652.14 594.3L658.02 594.73M667.82 595.43L673.72 595.83M683.62 596.42L689.57 596.78M699.45 597.4L705.35 597.79M715.19 598.45L721.1 598.85M730.96 599.49L736.89 599.85M746.83 600.41L752.84 600.71M762.92 601.13L769.03 601.32M779.27 601.58L785.42 601.73M795.7 601.95L801.87 602.08M812.18 602.27L818.37 602.38M828.7 602.54L834.91 602.64M845.26 602.79L851.47 602.88M861.83 603.02L868.05 603.1M878.41 603.24L884.63 603.32M894.98 603.47L901.19 603.56M911.55 603.7L917.76 603.78M928.13 603.92L934.35 604M944.72 604.13L950.94 604.2M961.32 604.33L967.55 604.4M977.92 604.52L984.15 604.6M994.52 604.73L1000.74 604.8M1011.11 604.94L1017.33 605.02M1027.69 605.16L1033.9 605.25M1044.25 605.4L1050.45 605.49M1060.8 605.65L1067 605.75M1077.34 605.91L1083.54 606.01M1093.87 606.17L1100.07 606.28M1110.4 606.45L1116.59 606.55M1126.92 606.73L1133.11 606.84" fill="none" stroke="#0000ff" stroke-width="3" stroke-linejoin="round" stroke-linecap="round" shape-rendering="crispEdges" clip-path="url(#cia)"/>
<path d="M586.27 839.45L586.96 839.14L587.65 838.22L589.02 834.6M590.29 829.26L590.32 829.09M591.33 823.5L592.32 816.89M593.08 811.05L593.1 810.88M593.79 804.96L594.28 797.85M594.59 791.56L594.6 791.37M594.86 785.03L595.13 777.7M595.34 771.31L595.35 771.12M595.55 764.72L595.77 757.34M595.95 750.92L595.95 750.72M596.13 744.3L596.32 736.89M596.49 730.46L596.49 730.26M596.63 723.81L596.76 716.34M596.86 709.84L596.87 709.64M596.95 703.13L597.05 695.62M597.13 689.1L597.13 688.9M597.21 682.38L597.29 674.86M597.36 668.33L597.36 668.14M597.44 661.61L597.52 654.09M597.59 647.56L597.59 647.36M597.66 640.84L597.75 633.32M597.83 626.8L597.83 626.6M597.91 620.08L598.01 612.58M598.1 606.07L598.1 605.88M598.21 599.39L598.37 591.94M598.6 585.57L598.61 585.38M599.4 579.57L600.01 576.33L600.82 573.39M603.85 569.83L603.97 569.74M608.91 568.08L616.24 568.36M622.25 568.94L622.43 568.96M628.21 569.78L634.66 570.93M640.14 572.06L640.3 572.09M645.7 573.3L651.87 574.73M657.21 575.98L657.37 576.02M662.75 577.25L669 578.59M674.54 579.66L674.71 579.69M680.39 580.61L687.08 581.51M692.93 582.27L693.1 582.29M698.96 583.03L705.74 583.86M711.64 584.56L711.82 584.58M717.74 585.26L724.58 586.02M730.54 586.66L730.72 586.68M736.7 587.29L743.62 587.98M749.64 588.55L749.82 588.57M755.87 589.13L762.86 589.74M768.95 590.25L769.13 590.26M775.24 590.75L782.28 591.31M788.41 591.79L788.6 591.8M794.73 592.26L801.81 592.79M807.96 593.23L808.15 593.25M814.32 593.68L821.43 594.17M827.61 594.58L827.8 594.59M834 595L841.15 595.45M847.37 595.83L847.56 595.84M853.79 596.21L860.98 596.62M867.23 596.96L867.42 596.97M873.69 597.31L880.92 597.68M887.21 597.99L887.4 598M893.7 598.29L900.98 598.62M907.31 598.89L907.5 598.9M913.84 599.16L921.16 599.44M927.52 599.68L927.71 599.68M934.09 599.91L941.43 600.16M947.82 600.37L948.02 600.38M954.41 600.59L961.78 600.82M968.18 601.02L968.37 601.02M974.78 601.22L982.15 601.44M988.56 601.64L988.75 601.64M995.15 601.84L1002.52 602.07M1008.92 602.28L1009.11 602.28M1015.51 602.49L1022.86 602.74M1029.24 602.96L1029.43 602.97M1035.8 603.19L1043.14 603.46M1049.51 603.69L1049.7 603.69M1056.07 603.93L1063.4 604.19M1069.77 604.43L1069.96 604.43M1076.33 604.67L1083.65 604.94M1090.02 605.18L1090.21 605.19M1096.57 605.43L1103.89 605.7M1110.25 605.94L1110.45 605.95M1116.8 606.19L1124.12 606.47M1130.48 606.72L1130.67 606.72" fill="none" stroke="#00ffff" stroke-width="3" stroke-linejoin="round" stroke-linecap="round" shape-rendering="crispEdges" clip-path="url(#cia)"/>
<path d="M586.27 811.76L586.96 811.4L587.65 810.36L588.91 806.8M590.16 801.44L590.19 801.27M591.2 795.68L592.22 789.11M593.03 783.32L593.06 783.14M593.81 777.29L594.46 770.34M594.89 764.17L594.9 763.98M595.27 757.75L595.63 750.52M595.92 744.2L595.93 744.01M596.19 737.67L596.47 730.35M596.66 723.94L596.67 723.75M596.8 717.28L596.93 709.81M597.03 703.31L597.03 703.11M597.12 696.6L597.22 689.1M597.3 682.58L597.3 682.38M597.38 675.86L597.47 668.35M597.55 661.83L597.55 661.64M597.63 655.12L597.73 647.61M597.81 641.09L597.81 640.89M597.9 634.38L598.01 626.89M598.11 620.39L598.11 620.19M598.23 613.71L598.41 606.29M598.87 600.16L598.9 599.98M599.94 594.42L600.95 590.83L601.94 588.82M606.36 586.65L606.52 586.6M612.59 586.09L620 586.28M626.28 586.6L626.47 586.61M632.63 587.05L639.62 587.66M645.63 588.25L645.81 588.27M651.78 588.9L658.64 589.65M664.6 590.29L664.78 590.31M670.77 590.92L677.72 591.56M683.84 592.04L684.02 592.06M690.15 592.53L697.19 593.1M703.29 593.59L703.48 593.6M709.58 594.1L716.62 594.66M722.74 595.14L722.93 595.16M729.06 595.62L736.14 596.14M742.32 596.57L742.5 596.58M748.71 596.97L755.9 597.39M762.18 597.7L762.37 597.71M768.7 597.98L776.02 598.26M782.4 598.48L782.6 598.49M788.98 598.7L796.36 598.93M802.77 599.11L802.96 599.12M809.39 599.29L816.79 599.49M823.23 599.65L823.43 599.65M829.88 599.81L837.31 599.98M843.76 600.12L843.96 600.12M850.42 600.26L857.86 600.42M864.33 600.56L864.52 600.56M870.99 600.7L878.43 600.85M884.89 600.99L885.09 601M891.54 601.14L898.98 601.31M905.43 601.45L905.62 601.46M912.08 601.6L919.52 601.76M925.98 601.9L926.18 601.91M932.64 602.04L940.09 602.2M946.56 602.33L946.75 602.33M953.22 602.46L960.67 602.61M967.14 602.74L967.34 602.75M973.81 602.88L981.25 603.03M987.72 603.16L987.92 603.17M994.38 603.3L1001.83 603.46M1008.29 603.6L1008.48 603.6M1014.94 603.74L1022.37 603.91M1028.82 604.06L1029.02 604.07M1035.46 604.22L1042.88 604.4M1049.32 604.56L1049.52 604.56M1055.96 604.73L1063.37 604.91M1069.8 605.08L1070 605.09M1076.43 605.26L1083.83 605.45M1090.26 605.63L1090.45 605.63M1096.88 605.81L1104.27 606.01M1110.69 606.19L1110.89 606.19M1117.31 606.37L1124.7 606.58M1131.11 606.77L1131.31 606.77" fill="none" stroke="#ff8000" stroke-width="3" stroke-linejoin="round" stroke-linecap="round" shape-rendering="crispEdges" clip-path="url(#cia)"/>
<path d="M585.4 861.6L586.09 861.31L586.78 860.45L588.21 856.8M589.48 851.47L589.51 851.31M590.51 845.71L591.48 839.08M592.23 833.22L592.25 833.05M592.9 827.1L593.31 819.9M593.55 813.55L593.56 813.36M593.77 806.96L593.99 799.58M594.16 793.15L594.16 792.96M594.33 786.52L594.51 779.1M594.66 772.65L594.66 772.46M594.81 766L594.98 758.57M595.12 752.12L595.13 751.92M595.27 745.47L595.44 738.04M595.59 731.59L595.6 731.39M595.74 724.94L595.89 717.48M596 711L596.01 710.8M596.11 704.31L596.23 696.82M596.33 690.32L596.33 690.12M596.43 683.62L596.54 676.13M596.63 669.63L596.63 669.43M596.73 662.93L596.85 655.44M596.95 648.95L596.96 648.75M597.07 642.27L597.22 634.81M597.37 628.36L597.38 628.17M597.59 621.78L597.75 619.59L598.58 615.17M599.97 609.96L600.02 609.81M602.62 605.81L608.48 604.08M614.06 603.06L614.24 603.04M620.32 602.51L627.81 602.44M634.3 602.55L634.49 602.55M640.89 602.75L648.18 603.06M654.48 603.37L654.67 603.38M660.94 603.7L668.18 604.07M674.49 604.36L674.68 604.37M681.04 604.61L688.41 604.83M694.82 605.02L695.01 605.03M701.43 605.22L708.82 605.42M715.25 605.59L715.45 605.6M721.88 605.77L729.29 605.95M735.73 606.11L735.93 606.12M742.38 606.27L749.81 606.44M756.26 606.58L756.46 606.59M762.92 606.73L770.36 606.88M776.83 607.02L777.02 607.02M783.48 607.17L790.91 607.33M797.36 607.48L797.56 607.49M804.01 607.63L811.44 607.8M817.9 607.95L818.09 607.95M824.55 608.1L831.99 608.25M838.46 608.38L838.66 608.39M845.14 608.51L852.61 608.64M859.1 608.74L859.3 608.74M865.81 608.83L873.32 608.92M879.86 608.98L880.06 608.99M886.62 609.03L894.19 609.06M900.78 609.07L900.98 609.07M907.58 609.06L915.17 609.05M921.76 609.04L921.96 609.04M928.54 609.03L936.12 609.01M942.7 608.99L942.9 608.99M949.48 608.96L957.05 608.93M963.62 608.9L963.82 608.9M970.39 608.87L977.95 608.83M984.51 608.8L984.71 608.8M991.27 608.76L998.83 608.71M1005.39 608.67L1005.59 608.67M1012.14 608.63L1019.69 608.58M1026.25 608.53L1026.45 608.53M1033 608.49L1040.54 608.42M1047.07 608.36L1047.27 608.35M1053.79 608.28L1061.3 608.18M1067.8 608.09L1068 608.09M1074.5 607.99L1081.98 607.86M1088.47 607.75L1088.66 607.75M1095.14 607.63L1102.6 607.49M1109.08 607.36L1109.27 607.36M1115.74 607.23L1123.19 607.08M1129.66 606.94L1129.85 606.94" fill="none" stroke="#c0c0c0" stroke-width="3" stroke-linejoin="round" stroke-linecap="round" shape-rendering="crispEdges" clip-path="url(#cia)"/>
<path d="M585.4 820.06L586.09 819.72L586.78 818.73L588.08 815.14M589.34 809.8L589.37 809.63M590.38 804.04L591.39 797.45M592.18 791.64L592.21 791.47M592.93 785.59L593.52 778.58M593.9 772.36L593.91 772.17M594.24 765.9L594.57 758.63M594.83 752.29L594.84 752.1M595.08 745.74L595.34 738.4M595.55 732.01L595.56 731.82M595.74 725.4L595.9 717.96M596.01 711.47L596.01 711.27M596.11 704.77L596.21 697.27M596.3 690.76L596.3 690.56M596.38 684.04L596.47 676.53M596.55 670L596.55 669.81M596.62 663.28L596.71 655.77M596.79 649.25L596.79 649.05M596.87 642.53L596.97 635.02M597.05 628.51L597.06 628.31M597.15 621.81L597.26 614.32M597.38 607.84L597.39 607.65M597.55 601.21L597.75 596.88L598.16 594.22M599.25 588.71L599.29 588.55M601.13 583.79L601.75 583.15L602.79 582.55L606.13 581.19M612.08 580.55L612.28 580.55M618.66 580.77L625.73 581.3M631.69 581.94L631.87 581.96M637.71 582.72L644.33 583.7M650.03 584.6L650.2 584.63M655.89 585.54L662.44 586.59M668.18 587.45L668.35 587.48M674.16 588.27L680.99 589.04M687.02 589.61L687.21 589.62M693.25 590.18L700.23 590.8M706.31 591.32L706.49 591.34M712.58 591.85L719.61 592.42M725.73 592.9L725.92 592.91M732.05 593.38L739.14 593.89M745.31 594.32L745.5 594.33M751.69 594.74L758.84 595.19M765.07 595.56L765.26 595.57M771.51 595.92L778.72 596.31M784.98 596.65L785.17 596.66M791.45 596.98L798.68 597.35M804.97 597.66L805.16 597.67M811.46 597.97L818.72 598.31M825.03 598.6L825.23 598.6M831.55 598.88L838.84 599.19M845.18 599.45L845.37 599.46M851.72 599.71L859.04 599.99M865.41 600.22L865.6 600.23M871.97 600.46L879.33 600.7M885.72 600.91L885.92 600.91M892.32 601.11L899.7 601.33M906.13 601.5L906.32 601.51M912.76 601.67L920.18 601.85M926.63 602L926.82 602.01M933.28 602.15L940.72 602.31M947.19 602.44L947.39 602.44M953.86 602.57L961.32 602.71M967.79 602.84L967.99 602.84M974.47 602.96L981.93 603.1M988.41 603.22L988.6 603.23M995.08 603.35L1002.53 603.5M1009 603.63L1009.2 603.63M1015.66 603.77L1023.1 603.93M1029.55 604.08L1029.75 604.08M1036.19 604.24L1043.61 604.42M1050.05 604.58L1050.25 604.58M1056.69 604.74L1064.1 604.93M1070.53 605.1L1070.72 605.11M1077.16 605.27L1084.56 605.47M1090.99 605.64L1091.18 605.65M1097.6 605.83L1105 606.03M1111.42 606.21L1111.62 606.21M1118.04 606.39L1125.43 606.6M1131.84 606.79L1132.04 606.79" fill="none" stroke="#808080" stroke-width="3" stroke-linejoin="round" stroke-linecap="round" shape-rendering="crispEdges" clip-path="url(#cia)"/>
<text x="19" y="1562.3" font-size="94" text-anchor="start" textLength="110" lengthAdjust="spacingAndGlyphs">(b)</text>
<line x1="277.2" y1="1540.5" x2="1677.8" y2="1540.5" stroke="#000" stroke-width="4.6" stroke-linecap="butt" shape-rendering="crispEdges"/>
<line x1="277.2" y1="2564.5" x2="1677.8" y2="2564.5" stroke="#000" stroke-width="4.6" stroke-linecap="butt" shape-rendering="crispEdges"/>
<line x1="279.5" y1="1538.2" x2="279.5" y2="2566.8" stroke="#000" stroke-width="4.6" stroke-linecap="butt" shape-rendering="crispEdges"/>
<line x1="1675.5" y1="1538.2" x2="1675.5" y2="2566.8" stroke="#000" stroke-width="4.6" stroke-linecap="butt" shape-rendering="crispEdges"/>
<line x1="279.5" y1="2564.5" x2="279.5" y2="2584.7" stroke="#000" stroke-width="4.6" stroke-linecap="round" shape-rendering="crispEdges"/>
<line x1="434.61" y1="2564.5" x2="434.61" y2="2584.7" stroke="#000" stroke-width="4.6" stroke-linecap="round" shape-rendering="crispEdges"/>
<line x1="589.72" y1="2564.5" x2="589.72" y2="2584.7" stroke="#000" stroke-width="4.6" stroke-linecap="round" shape-rendering="crispEdges"/>
<line x1="744.83" y1="2564.5" x2="744.83" y2="2584.7" stroke="#000" stroke-width="4.6" stroke-linecap="round" shape-rendering="crispEdges"/>
<line x1="899.94" y1="2564.5" x2="899.94" y2="2584.7" stroke="#000" stroke-width="4.6" stroke-linecap="round" shape-rendering="crispEdges"/>
<line x1="1055.06" y1="2564.5" x2="1055.06" y2="2584.7" stroke="#000" stroke-width="4.6" stroke-linecap="round" shape-rendering="crispEdges"/>
<line x1="1210.17" y1="2564.5" x2="1210.17" y2="2584.7" stroke="#000" stroke-width="4.6" stroke-linecap="round" shape-rendering="crispEdges"/>
<line x1="1365.28" y1="2564.5" x2="1365.28" y2="2584.7" stroke="#000" stroke-width="4.6" stroke-linecap="round" shape-rendering="crispEdges"/>
<line x1="1520.39" y1="2564.5" x2="1520.39" y2="2584.7" stroke="#000" stroke-width="4.6" stroke-linecap="round" shape-rendering="crispEdges"/>
<line x1="1675.5" y1="2564.5" x2="1675.5" y2="2584.7" stroke="#000" stroke-width="4.6" stroke-linecap="round" shape-rendering="crispEdges"/>
<line x1="357.06" y1="2564.5" x2="357.06" y2="2574.2" stroke="#000" stroke-width="4.6" stroke-linecap="round" shape-rendering="crispEdges"/>
<line x1="512.17" y1="2564.5" x2="512.17" y2="2574.2" stroke="#000" stroke-width="4.6" stroke-linecap="round" shape-rendering="crispEdges"/>
<line x1="667.28" y1="2564.5" x2="667.28" y2="2574.2" stroke="#000" stroke-width="4.6" stroke-linecap="round" shape-rendering="crispEdges"/>
<line x1="822.39" y1="2564.5" x2="822.39" y2="2574.2" stroke="#000" stroke-width="4.6" stroke-linecap="round" shape-rendering="crispEdges"/>
<line x1="977.5" y1="2564.5" x2="977.5" y2="2574.2" stroke="#000" stroke-width="4.6" stroke-linecap="round" shape-rendering="crispEdges"/>
<line x1="1132.61" y1="2564.5" x2="1132.61" y2="2574.2" stroke="#000" stroke-width="4.6" stroke-linecap="round" shape-rendering="crispEdges"/>
<line x1="1287.72" y1="2564.5" x2="1287.72" y2="2574.2" stroke="#000" stroke-width="4.6" stroke-linecap="round" shape-rendering="crispEdges"/>
<line x1="1442.83" y1="2564.5" x2="1442.83" y2="2574.2" stroke="#000" stroke-width="4.6" stroke-linecap="round" shape-rendering="crispEdges"/>
<line x1="1597.94" y1="2564.5" x2="1597.94" y2="2574.2" stroke="#000" stroke-width="4.6" stroke-linecap="round" shape-rendering="crispEdges"/>
<line x1="279.5" y1="2564.5" x2="258.3" y2="2564.5" stroke="#000" stroke-width="4.6" stroke-linecap="round" shape-rendering="crispEdges"/>
<line x1="279.5" y1="2462.1" x2="258.3" y2="2462.1" stroke="#000" stroke-width="4.6" stroke-linecap="round" shape-rendering="crispEdges"/>
<line x1="279.5" y1="2359.7" x2="258.3" y2="2359.7" stroke="#000" stroke-width="4.6" stroke-linecap="round" shape-rendering="crispEdges"/>
<line x1="279.5" y1="2257.3" x2="258.3" y2="2257.3" stroke="#000" stroke-width="4.6" stroke-linecap="round" shape-rendering="crispEdges"/>
<line x1="279.5" y1="2154.9" x2="258.3" y2="2154.9" stroke="#000" stroke-width="4.6" stroke-linecap="round" shape-rendering="crispEdges"/>
<line x1="279.5" y1="2052.5" x2="258.3" y2="2052.5" stroke="#000" stroke-width="4.6" stroke-linecap="round" shape-rendering="crispEdges"/>
<line x1="279.5" y1="1950.1" x2="258.3" y2="1950.1" stroke="#000" stroke-width="4.6" stroke-linecap="round" shape-rendering="crispEdges"/>
<line x1="279.5" y1="1847.7" x2="258.3" y2="1847.7" stroke="#000" stroke-width="4.6" stroke-linecap="round" shape-rendering="crispEdges"/>
<line x1="279.5" y1="1745.3" x2="258.3" y2="1745.3" stroke="#000" stroke-width="4.6" stroke-linecap="round" shape-rendering="crispEdges"/>
<line x1="279.5" y1="1642.9" x2="258.3" y2="1642.9" stroke="#000" stroke-width="4.6" stroke-linecap="round" shape-rendering="crispEdges"/>
<line x1="279.5" y1="1540.5" x2="258.3" y2="1540.5" stroke="#000" stroke-width="4.6" stroke-linecap="round" shape-rendering="crispEdges"/>
<line x1="279.5" y1="2513.3" x2="268.8" y2="2513.3" stroke="#000" stroke-width="4.6" stroke-linecap="round" shape-rendering="crispEdges"/>
<line x1="279.5" y1="2410.9" x2="268.8" y2="2410.9" stroke="#000" stroke-width="4.6" stroke-linecap="round" shape-rendering="crispEdges"/>
<line x1="279.5" y1="2308.5" x2="268.8" y2="2308.5" stroke="#000" stroke-width="4.6" stroke-linecap="round" shape-rendering="crispEdges"/>
<line x1="279.5" y1="2206.1" x2="268.8" y2="2206.1" stroke="#000" stroke-width="4.6" stroke-linecap="round" shape-rendering="crispEdges"/>
<line x1="279.5" y1="2103.7" x2="268.8" y2="2103.7" stroke="#000" stroke-width="4.6" stroke-linecap="round" shape-rendering="crispEdges"/>
<line x1="279.5" y1="2001.3" x2="268.8" y2="2001.3" stroke="#000" stroke-width="4.6" stroke-linecap="round" shape-rendering="crispEdges"/>
<line x1="279.5" y1="1898.9" x2="268.8" y2="1898.9" stroke="#000" stroke-width="4.6" stroke-linecap="round" shape-rendering="crispEdges"/>
<line x1="279.5" y1="1796.5" x2="268.8" y2="1796.5" stroke="#000" stroke-width="4.6" stroke-linecap="round" shape-rendering="crispEdges"/>
<line x1="279.5" y1="1694.1" x2="268.8" y2="1694.1" stroke="#000" stroke-width="4.6" stroke-linecap="round" shape-rendering="crispEdges"/>
<line x1="279.5" y1="1591.7" x2="268.8" y2="1591.7" stroke="#000" stroke-width="4.6" stroke-linecap="round" shape-rendering="crispEdges"/>
<line x1="279.5" y1="1540.5" x2="279.5" y2="1561.7" stroke="#000" stroke-width="4.6" stroke-linecap="round" shape-rendering="crispEdges"/>
<line x1="419.1" y1="1540.5" x2="419.1" y2="1551.2" stroke="#000" stroke-width="4.6" stroke-linecap="round" shape-rendering="crispEdges"/>
<line x1="558.7" y1="1540.5" x2="558.7" y2="1561.7" stroke="#000" stroke-width="4.6" stroke-linecap="round" shape-rendering="crispEdges"/>
<line x1="698.3" y1="1540.5" x2="698.3" y2="1551.2" stroke="#000" stroke-width="4.6" stroke-linecap="round" shape-rendering="crispEdges"/>
<line x1="837.9" y1="1540.5" x2="837.9" y2="1561.7" stroke="#000" stroke-width="4.6" stroke-linecap="round" shape-rendering="crispEdges"/>
<line x1="977.5" y1="1540.5" x2="977.5" y2="1551.2" stroke="#000" stroke-width="4.6" stroke-linecap="round" shape-rendering="crispEdges"/>
<line x1="1117.1" y1="1540.5" x2="1117.1" y2="1561.7" stroke="#000" stroke-width="4.6" stroke-linecap="round" shape-rendering="crispEdges"/>
<line x1="1256.7" y1="1540.5" x2="1256.7" y2="1551.2" stroke="#000" stroke-width="4.6" stroke-linecap="round" shape-rendering="crispEdges"/>
<line x1="1396.3" y1="1540.5" x2="1396.3" y2="1561.7" stroke="#000" stroke-width="4.6" stroke-linecap="round" shape-rendering="crispEdges"/>
<line x1="1535.9" y1="1540.5" x2="1535.9" y2="1551.2" stroke="#000" stroke-width="4.6" stroke-linecap="round" shape-rendering="crispEdges"/>
<line x1="1675.5" y1="1540.5" x2="1675.5" y2="1561.7" stroke="#000" stroke-width="4.6" stroke-linecap="round" shape-rendering="crispEdges"/>
<line x1="1675.5" y1="1540.5" x2="1654.3" y2="1540.5" stroke="#000" stroke-width="4.6" stroke-linecap="round" shape-rendering="crispEdges"/>
<line x1="1675.5" y1="1642.9" x2="1664.8" y2="1642.9" stroke="#000" stroke-width="4.6" stroke-linecap="round" shape-rendering="crispEdges"/>
<line x1="1675.5" y1="1745.3" x2="1654.3" y2="1745.3" stroke="#000" stroke-width="4.6" stroke-linecap="round" shape-rendering="crispEdges"/>
<line x1="1675.5" y1="1847.7" x2="1664.8" y2="1847.7" stroke="#000" stroke-width="4.6" stroke-linecap="round" shape-rendering="crispEdges"/>
<line x1="1675.5" y1="1950.1" x2="1654.3" y2="1950.1" stroke="#000" stroke-width="4.6" stroke-linecap="round" shape-rendering="crispEdges"/>
<line x1="1675.5" y1="2052.5" x2="1664.8" y2="2052.5" stroke="#000" stroke-width="4.6" stroke-linecap="round" shape-rendering="crispEdges"/>
<line x1="1675.5" y1="2154.9" x2="1654.3" y2="2154.9" stroke="#000" stroke-width="4.6" stroke-linecap="round" shape-rendering="crispEdges"/>
<line x1="1675.5" y1="2257.3" x2="1664.8" y2="2257.3" stroke="#000" stroke-width="4.6" stroke-linecap="round" shape-rendering="crispEdges"/>
<line x1="1675.5" y1="2359.7" x2="1654.3" y2="2359.7" stroke="#000" stroke-width="4.6" stroke-linecap="round" shape-rendering="crispEdges"/>
<line x1="1675.5" y1="2462.1" x2="1664.8" y2="2462.1" stroke="#000" stroke-width="4.6" stroke-linecap="round" shape-rendering="crispEdges"/>
<line x1="1675.5" y1="2564.5" x2="1654.3" y2="2564.5" stroke="#000" stroke-width="4.6" stroke-linecap="round" shape-rendering="crispEdges"/>
<text x="244.5" y="2575.1" font-size="46" text-anchor="end">-0.1</text>
<text x="244.5" y="2472.7" font-size="46" text-anchor="end">0.0</text>
<text x="244.5" y="2370.3" font-size="46" text-anchor="end">0.1</text>
<text x="244.5" y="2267.9" font-size="46" text-anchor="end">0.2</text>
<text x="244.5" y="2165.5" font-size="46" text-anchor="end">0.3</text>
<text x="244.5" y="2063.1" font-size="46" text-anchor="end">0.4</text>
<text x="244.5" y="1960.7" font-size="46" text-anchor="end">0.5</text>
<text x="244.5" y="1858.3" font-size="46" text-anchor="end">0.6</text>
<text x="244.5" y="1755.9" font-size="46" text-anchor="end">0.7</text>
<text x="244.5" y="1653.5" font-size="46" text-anchor="end">0.8</text>
<text x="244.5" y="1551.1" font-size="46" text-anchor="end">0.9</text>
<text x="279.5" y="2632" font-size="46" text-anchor="middle">0</text>
<text x="434.61" y="2632" font-size="46" text-anchor="middle">20</text>
<text x="589.72" y="2632" font-size="46" text-anchor="middle">40</text>
<text x="744.83" y="2632" font-size="46" text-anchor="middle">60</text>
<text x="899.94" y="2632" font-size="46" text-anchor="middle">80</text>
<text x="1055.06" y="2632" font-size="46" text-anchor="middle">100</text>
<text x="1210.17" y="2632" font-size="46" text-anchor="middle">120</text>
<text x="1365.28" y="2632" font-size="46" text-anchor="middle">140</text>
<text x="1520.39" y="2632" font-size="46" text-anchor="middle">160</text>
<text x="1675.5" y="2632" font-size="46" text-anchor="middle">180</text>
<text x="977.5" y="2743" font-size="59" text-anchor="middle" textLength="165" lengthAdjust="spacingAndGlyphs">t (min)</text>
<text transform="translate(79.2 2056.5) rotate(-90)" font-size="72.5" text-anchor="middle" textLength="502" lengthAdjust="spacingAndGlyphs">Heat flow (W/g)</text>
<text transform="translate(125 2554) rotate(-90)" font-size="42" text-anchor="start" textLength="92" lengthAdjust="spacingAndGlyphs">Endo</text>
<line x1="147.5" y1="2455.5" x2="147.5" y2="2524" stroke="#000" stroke-width="3" stroke-linecap="butt" shape-rendering="crispEdges"/>
<path d="M140 2520 L155 2520 L147.5 2549 Z" fill="#000"/>
<path d="M281.83 2462.1L282.91 2231.34L283.96 2075.93L285.27 1934.64L286.76 1826.18L288.27 1750.69L289.66 1705.46L290.75 1677.18L291.52 1662.35L292.14 1654.49L293.8 1643.05L294.41 1640.69L295.01 1639.83L295.61 1640.06L296.22 1640.71L297.42 1643.1L298.78 1647.12L300.44 1653.14L301.53 1659.05L302.77 1669.53L304.47 1688.55L308.51 1739.97L321.7 1891.79L329.14 1973.12L331.62 1997.63L333.79 2016.66L336.43 2037.09L339.22 2056.81L346.04 2099.71L356.03 2157.72L359.39 2174.87L362.76 2189.69L370.56 2219.64L376.29 2242.97L378.74 2251.44L381.47 2259.88L385.58 2271.15L390.35 2282.48L398.81 2301.3L401.42 2306.57L404.36 2311.9L411.62 2323.92L420.12 2336.51L434.35 2356.12L438.98 2362.05L443 2366.76L446.25 2370.2L450.28 2374.05L459.58 2382.04L469.2 2389.25L480.21 2396.57L495.36 2405.71L508.81 2412.93L520.87 2418.45L533.38 2423.07L541.72 2425.7L550.52 2428.18L572.35 2433.43L592.51 2437.47L601.98 2439.01L610.6 2440.18L647.73 2444.18L671.62 2446.43L689.61 2447.71L720.64 2449.3L764.69 2451.04L830.91 2453.13L855.55 2453.6L911.18 2454.26L936.59 2454.82L960.61 2455.76L980.91 2457.04L981.53 2457.35L982.31 2458.12L982.93 2459.03L983.08 2459.74L983.55 2466.31L984.79 2496.15L985.26 2503.06L986.5 2512.52L987.74 2519.91L988.82 2524.08L989.44 2525.3L989.91 2525.59L993.46 2525.43L997.46 2524.94L1010.73 2522.33L1015.51 2521.58L1030.24 2520.12L1044.35 2519.03L1066.53 2518.01L1115.39 2517.15L1127.34 2516.59L1137.41 2515.83L1137.97 2515.29L1138.53 2514.11L1138.82 2513.3L1138.96 2511.84L1140.37 2462.1L1141.3 2455.52L1142.23 2451.82L1143.75 2449.34L1144.5 2448.62L1145.26 2448.29L1154.91 2449.65L1174.96 2451.69L1202.88 2453.99L1237.78 2455.71L1279.97 2457.17L1331.15 2458.42L1384.67 2459.3L1597.94 2461.38" fill="none" stroke="#000" stroke-width="5.2" stroke-linejoin="round" stroke-linecap="round" shape-rendering="crispEdges" clip-path="url(#cb)"/>
<path d="M281.83 2462.1L281.88 2445.8M281.95 2425L282 2408.7M282.07 2387.9L282.13 2371.6M282.2 2350.8L282.26 2334.5M282.34 2313.7L282.4 2297.4M282.48 2276.6L282.54 2260.3M282.62 2239.5L282.69 2223.2M282.78 2202.4L282.85 2186.1M282.94 2165.3L283.02 2149M283.11 2128.2L283.18 2111.9M283.27 2091.1L283.34 2074.8M283.44 2054L283.52 2037.7M283.69 2016.9L284.13 2000.61M285.4 1979.85L286.69 1970.91L288.08 1963.78M299.74 1971.36L302.59 1987.41M306.92 2007.75L309.13 2016.7L310.42 2023.66M313.2 2044.27L315.58 2060.4M319.49 2080.83L322.44 2096.86M325.99 2117.35L328.76 2133.41M332.5 2153.87L335.66 2169.86M339.86 2190.24L343.1 2204.8M347.29 2221.41L351.05 2233.95M356.12 2249.68L360.09 2262.01M365.35 2277.55L369.89 2289.31M376.65 2303.35L382.44 2313.86M390.41 2326.69L397.12 2336.28M406.13 2348.07L413.48 2357.02M423.34 2367.96L431.62 2375.98M443.18 2385.22L452.87 2391.83M465.94 2399.56L476.76 2405.04M491.31 2411.29L503.25 2415.65M519.05 2420.65L531.67 2424.33M547.99 2428.81L561.16 2431.94M578.79 2435.11L593.03 2437.17M611.43 2439.57L626.03 2441.27M644.91 2443.19L659.91 2444.49M679.35 2445.85L694.82 2446.68M714.73 2447.57L730.42 2448.18M750.55 2448.85L766.37 2449.33M786.62 2449.88L802.5 2450.3M822.75 2450.85L838.65 2451.25M859.01 2451.69L875 2452.01M895.4 2452.4L911.36 2452.74M931.67 2453.23L947.51 2453.69M967.71 2454.29L975.95 2454.93L976.25 2455.33L976.55 2456.39L977.26 2461.04M979.08 2480.02L980 2488.91L980.94 2494.46M985.13 2511.07L985.88 2512.53L986.65 2513.26L998.01 2514.49M1017.81 2515.49L1033.75 2515.85M1053.8 2516.6L1068.75 2517.95M1087.25 2520.25L1101.97 2521.83M1121.94 2522.37L1127.23 2521.7L1131.84 2520.47L1132.15 2519.46L1132.48 2516.61M1133.76 2497.09L1134.47 2486.56L1135.04 2482.07M1141.29 2467.52L1143.16 2466.8L1145.49 2466.2L1154.69 2464.63M1174.39 2463.52L1190.48 2463.32M1211.19 2463.23L1227.49 2463.23M1248.29 2463.23L1264.59 2463.23M1285.39 2463.23L1301.69 2463.23M1322.49 2463.23L1338.79 2463.23M1359.59 2463.23L1375.89 2463.22M1396.68 2463.21L1412.97 2463.2M1433.74 2463.17L1450.01 2463.14M1470.77 2463.1L1487.03 2463.06M1507.77 2463L1524.03 2462.96M1544.76 2462.89L1561.01 2462.84M1581.74 2462.77L1597.94 2462.71" fill="none" stroke="#ff0000" stroke-width="5" stroke-linejoin="round" stroke-linecap="round" shape-rendering="crispEdges" clip-path="url(#cb)"/>
<path d="M281.83 2462.1L281.88 2445.8M281.95 2425L282 2408.7M282.07 2387.9L282.12 2371.6M282.2 2350.8L282.26 2334.5M282.33 2313.7L282.4 2297.4M282.48 2276.6L282.55 2260.3M282.64 2239.5L282.72 2223.2M282.83 2202.4L282.92 2186.1M283.06 2165.3L283.17 2149M283.32 2128.2L283.44 2111.9M283.61 2091.1L283.77 2074.81M284.11 2054.01L285.19 2037.75M291.66 2035.08L294.07 2043.45L295.42 2050.92M298.6 2071.47L301.08 2087.58M304.95 2108.02L308.28 2123.98M312.62 2144.32L316.14 2160.23M320.73 2180.52L324.23 2196.44M329.36 2216.59L331.88 2224.34L334.65 2232.01M342.21 2250.81L346.99 2262.33M353.34 2276.78L358.68 2287.74M366.34 2300.88L372.87 2310.65M381.76 2322.56L389.29 2331.33M399.93 2341.49L409.13 2348.59M421.76 2356.76L432.17 2362.65M445.79 2369.83L456.8 2375.12M471.24 2381.48L482.8 2386.22M497.67 2392.15L509.48 2396.64M524.96 2401.96L537.59 2405.63M554.31 2409.71L567.74 2412.58M585.19 2415.93L598.99 2418.43M616.74 2421.48L630.87 2423.65M649.34 2425.98L664.12 2427.5M683.32 2429.1L698.64 2430.08M718.33 2431.19L733.84 2431.98M753.73 2432.89L769.37 2433.55M789.4 2434.32L805.14 2434.88M825.25 2435.57L841.1 2436.02M861.44 2436.48L877.43 2436.79M897.83 2437.19L913.75 2437.57M933.93 2438.19L949.58 2438.84M968.8 2440.42L971.58 2441.12L973.86 2442.43L976 2444.59L977.94 2447.58M980.2 2466.12L980.86 2481.76M981.94 2501.48L982.15 2503.06L983.22 2507.36L985.36 2514.36M994.73 2525.79L1001.23 2527.46L1007.98 2528.84M1026.39 2531.23L1041.6 2532.32M1061.12 2533.6L1076.36 2534.66M1096.07 2535.75L1111.91 2536.21M1130.47 2534.02L1131.22 2533.59L1131.68 2531.59L1132.82 2520.08M1134.25 2500.7L1135.6 2485.76M1137.32 2466.68L1138.04 2461.05L1138.66 2458.59L1140.51 2457.61L1143.46 2456.51M1161.66 2453.92L1176.69 2452.64M1197.08 2452.24L1213.31 2452.17M1233.85 2452.43L1249.77 2452.81M1270.01 2453.37L1285.91 2453.77M1306.21 2454.27L1322.08 2454.7M1342.33 2455.25L1358.21 2455.67M1378.52 2456.16L1394.47 2456.51M1414.86 2456.92L1430.86 2457.22M1451.28 2457.59L1467.31 2457.87M1487.77 2458.21L1503.81 2458.47M1524.3 2458.78L1540.37 2459.01M1560.89 2459.29L1576.99 2459.49M1597.54 2459.74L1597.94 2459.74" fill="none" stroke="#00ff00" stroke-width="5" stroke-linejoin="round" stroke-linecap="round" shape-rendering="crispEdges" clip-path="url(#cb)"/>
<path d="M281.83 2462.1L281.88 2445.8M281.94 2425L281.99 2408.7M282.05 2387.9L282.1 2371.6M282.17 2350.8L282.22 2334.5M282.29 2313.7L282.36 2297.4M282.46 2276.6L282.58 2260.3M282.89 2239.5L283.18 2223.21M283.62 2202.41L284.06 2186.12M284.98 2165.34L285.55 2160.75L285.86 2160.55L286.48 2160.97L287.26 2162.23L288.03 2164.19L289.82 2170.84M293.97 2191.23L297.73 2207.09M302.54 2227.32L306.31 2243.18M311.14 2263.41L315.26 2279.18M321.26 2299.09L324.14 2306.64L327.39 2314.19M336.46 2332.91L340.18 2339.87L343.69 2345.78M352.79 2357.48L360.79 2365.78M371.94 2375.43L376.6 2378.89L381.49 2382.18M394.75 2389.73L405.84 2394.93M420.71 2400.86L432.7 2405.17M448.11 2410.56L460.36 2414.62M476.35 2419.42L489.29 2422.79M506.28 2426.59L519.88 2429.3M537.57 2432.41L551.67 2434.6M569.92 2437.16L584.41 2438.96M603.14 2441.03L617.87 2442.61M636.7 2444.57L651.6 2445.98M670.91 2447.46L686.41 2448.26M706.62 2448.86L722.56 2449.22M742.99 2449.59L759.04 2449.83M779.55 2450.12L795.61 2450.36M816.06 2450.71L832.04 2451.03M852.44 2451.43L868.43 2451.75M888.81 2452.16L904.76 2452.52M925.05 2453.03L940.9 2453.48M961.09 2454.08L972.07 2454.55L975.95 2454.93L976.22 2455.26M978.55 2473.72L980 2488.57M983 2506.37L984.17 2512.06L985.26 2516.04L986.19 2518.01L986.65 2518.39L987.25 2518.42M1007.67 2518.04L1023.28 2517.35M1042.9 2516.17L1058.15 2515.11M1076.76 2512.93L1090.88 2510.74M1108.88 2507.94L1117.72 2506.78L1123.6 2506.36M1133.89 2495.86L1134.95 2480.62M1136.59 2461.45L1138.97 2447.54M1151.51 2439.28L1152.31 2438.78L1153.71 2436.21L1154.33 2435.68L1154.79 2436.25L1156.03 2440.16L1156.5 2441.04L1158.53 2440.85M1178.19 2440.66L1193.52 2441.64M1213.16 2442.79L1228.63 2443.62M1244.7 2444.46L1250.45 2444.99L1260.17 2445.29M1278.37 2446.67L1293.66 2447.67M1313.35 2448.78L1328.82 2449.61M1348.62 2450.61L1364.2 2451.33M1384.16 2452.18L1399.87 2452.76M1420.01 2453.42L1435.8 2453.93M1455.91 2454.63L1471.61 2455.22M1491.66 2455.97L1507.45 2456.48M1527.75 2456.98L1543.69 2457.34M1564.24 2457.59L1566.46 2457.49L1567.85 2455.91L1568.47 2455.55L1569.21 2455.84L1570.69 2457.24L1571.43 2457.67L1576.11 2457.92M1595.54 2459.17L1596.86 2458.9L1597.94 2458.41" fill="none" stroke="#0000ff" stroke-width="5" stroke-linejoin="round" stroke-linecap="round" shape-rendering="crispEdges" clip-path="url(#cb)"/>
<path d="M281.83 2462.1L282.02 2443M282.15 2430.1L282.18 2427.9M282.31 2415L282.52 2395.9M282.7 2383L282.73 2380.81M283.09 2367.91L284.15 2348.84M285.14 2335.98L285.35 2333.79M288.95 2323.82L290.11 2325.87L291.34 2329.05L295.14 2341.83M299.5 2353.96L300.29 2356.01M305.05 2368L306.95 2372.17L308.66 2375.36L311.6 2379.97L314.74 2384.4M323.15 2394.17L324.71 2395.72M334.46 2404.16L341.42 2409.11L348.18 2412.98M357.01 2417.04L358.56 2417.7M367.88 2421.27L375.05 2423.65L382.45 2425.81M392.79 2428.36L394.59 2428.76M405.34 2430.91L421.6 2433.75M432.59 2435.66L434.46 2435.99M445.45 2437.9L461.99 2440.47M473.49 2441.86L475.48 2442.08M487.18 2443.28L504.68 2444.88M516.6 2445.86L518.64 2446.02M530.64 2446.92L548.5 2448.16M560.59 2448.97L562.65 2449.1M574.77 2449.88L592.87 2450.89M605.25 2451.4L607.38 2451.48M619.85 2451.9L638.39 2452.46M650.96 2452.79L653.11 2452.85M665.73 2453.12L684.52 2453.43M697.27 2453.58L699.45 2453.6M712.23 2453.73L731.17 2453.89M743.97 2453.98L746.16 2454M758.97 2454.08L777.96 2454.19M790.79 2454.26L792.98 2454.27M805.82 2454.34L824.82 2454.43M837.67 2454.48L839.86 2454.49M852.73 2454.53L871.78 2454.57M884.66 2454.6L886.85 2454.6M899.72 2454.63L918.76 2454.7M931.59 2454.76L933.78 2454.78M946.59 2454.87L965.31 2455.24M973.86 2459.59L974.14 2461.52M975.36 2473.19L977.15 2490.51M978.99 2501.56L979.31 2503.44M981.41 2514.24L982.46 2517.8L983.08 2519.01L983.55 2519.42L988.43 2519.28L994.61 2518.74M1004.66 2515.9L1006.3 2515.33M1016.26 2512.4L1031.17 2508.2M1041.24 2505.37L1042.96 2504.89M1053.03 2502.06L1067.94 2497.87M1078 2495.04L1079.72 2494.55M1089.79 2491.72L1104.7 2487.53M1114.79 2484.72L1116.6 2484.34M1127.27 2482.11L1129.98 2480.8L1131.06 2480.12L1131.36 2479.71L1132.24 2476.25L1133.31 2469.04M1134.59 2457.43L1134.74 2455.38M1135.52 2443.26L1136.33 2432.65L1137.32 2425.95M1141.72 2417.45L1142.54 2417.25L1143.69 2417.28M1155.09 2418.77L1171.95 2421.01M1183.34 2422.53L1185.27 2422.79M1196.59 2424.37L1213.51 2426.56M1225.06 2427.9L1227.04 2428.13M1238.66 2429.41L1255.95 2431.22M1267.66 2432.41L1269.66 2432.61M1281.39 2433.77L1298.78 2435.49M1310.54 2436.63L1312.55 2436.82M1324.33 2437.94L1341.83 2439.54M1353.69 2440.58L1355.71 2440.75M1367.62 2441.74L1385.34 2443.12M1397.36 2444.01L1399.41 2444.15M1411.46 2445L1429.33 2446.23M1441.41 2447.05L1443.47 2447.19M1455.55 2448.02L1473.42 2449.25M1485.5 2450.06L1487.57 2450.2M1499.7 2450.97L1517.76 2452.01M1530.02 2452.64L1532.12 2452.75M1544.42 2453.35L1562.68 2454.18M1575.06 2454.7L1577.18 2454.79M1589.61 2455.26L1597.94 2455.55" fill="none" stroke="#00ffff" stroke-width="5" stroke-linejoin="round" stroke-linecap="round" shape-rendering="crispEdges" clip-path="url(#cb)"/>
<path d="M279.5 2460.05L285.24 2456.96L289.58 2455.16L293.3 2454.32L297.15 2454.28M310.1 2456.22L312.07 2456.57M325.12 2457.36L343.93 2456.79M356.71 2456.47L358.69 2456.45M371.69 2456.35L390.47 2456.23M403.5 2456.16L405.49 2456.16M418.54 2456.1L437.38 2456.04M450.44 2456L452.43 2455.99M465.49 2455.95L484.32 2455.89M497.37 2455.83L499.36 2455.82M512.39 2455.75L531.15 2455.61M544.13 2455.5L546.12 2455.48M559.08 2455.35L577.78 2455.14M590.73 2455L592.71 2454.97M605.67 2454.83L624.37 2454.63M637.35 2454.51L639.33 2454.49M652.32 2454.39L671.11 2454.27M684.16 2454.23L686.16 2454.22M699.24 2454.2L718.12 2454.18M731.2 2454.16L733.2 2454.16M746.29 2454.15L765.17 2454.13M778.26 2454.13L780.26 2454.12M793.36 2454.12L812.25 2454.11M825.35 2454.11L827.35 2454.11M840.45 2454.12L859.33 2454.13M872.42 2454.14L874.42 2454.15M887.49 2454.17L906.35 2454.21M919.41 2454.26L921.4 2454.26M934.45 2454.32L953.25 2454.41M965.9 2454.86L966.79 2455.04L967.07 2455.69M968.63 2467.23L970.25 2484.52M971.88 2495.98L972.19 2497.67M974.37 2508.6L975.79 2514.02L977.03 2516.88L977.5 2517.4L979.36 2518.63L982.1 2519.76M992.41 2517.36L993.9 2516.85M1003.66 2513.51L1017.89 2508.84M1027.79 2505.63L1029.29 2505.14M1039.15 2501.9L1053.21 2497.06M1062.82 2493.57L1064.28 2493.02M1073.77 2489.41L1087.32 2484.07M1096.66 2480.31L1098.07 2479.72M1107.31 2475.86L1117.25 2471.56L1120.76 2470.41M1123.56 2460.11L1123.69 2458.24M1124.51 2445.96L1125.96 2428.5M1127.05 2416.5L1127.26 2414.71M1130.61 2404.96L1132.3 2402.76L1133.08 2402.19L1133.85 2401.91L1136.64 2402.05L1145.18 2403.14M1156.48 2404.95L1158.22 2405.21M1169.61 2406.92L1186.07 2409.36M1197.49 2411.04L1199.23 2411.3M1210.61 2413.02L1226.89 2415.64M1238.1 2417.52L1239.82 2417.81M1251.01 2419.71L1267.21 2422.42M1278.5 2424.23L1280.23 2424.49M1291.61 2426.22L1308.05 2428.68M1319.48 2430.35L1321.23 2430.6M1332.7 2432.23L1349.33 2434.5M1360.93 2436L1362.71 2436.22M1374.38 2437.65L1391.33 2439.6M1403.13 2440.9L1404.94 2441.09M1416.79 2442.34L1433.95 2444.08M1445.88 2445.25L1447.7 2445.43M1459.62 2446.61L1476.83 2448.3M1488.81 2449.42L1490.65 2449.58M1502.72 2450.6L1520.37 2451.85M1532.72 2452.6L1534.61 2452.72M1547.01 2453.42L1565 2454.33M1577.56 2454.87L1579.49 2454.94M1592.15 2455.38L1597.94 2455.55" fill="none" stroke="#ff8000" stroke-width="5.2" stroke-linejoin="round" stroke-linecap="round" shape-rendering="crispEdges" clip-path="url(#cb)"/>
<path d="M1314.6 1621.5L1462.4 1621.5" fill="none" stroke="#000" stroke-width="5.2" stroke-linejoin="round" stroke-linecap="round" shape-rendering="crispEdges"/>
<text x="1479.5" y="1642.3" font-size="54" text-anchor="start" textLength="153" lengthAdjust="spacingAndGlyphs">Epoxy</text>
<clipPath id="lg1703"><rect x="1312" y="1698.1" width="153" height="10"/></clipPath>
<path d="M1314.5 1703.1L1330.8 1703.1M1351.6 1703.1L1367.9 1703.1M1388.7 1703.1L1405 1703.1M1425.8 1703.1L1442.1 1703.1M1462.9 1703.1L1475 1703.1" fill="none" stroke="#ff0000" stroke-width="5" stroke-linejoin="round" stroke-linecap="round" shape-rendering="crispEdges" clip-path="url(#lg1703)"/>
<text x="1476" y="1723.9" font-size="54" text-anchor="start" textLength="152" lengthAdjust="spacingAndGlyphs">10AM</text>
<clipPath id="lg1784"><rect x="1312" y="1779.7" width="153" height="10"/></clipPath>
<path d="M1314.5 1784.7L1330.8 1784.7M1351.6 1784.7L1367.9 1784.7M1388.7 1784.7L1405 1784.7M1425.8 1784.7L1442.1 1784.7M1462.9 1784.7L1475 1784.7" fill="none" stroke="#00ff00" stroke-width="5" stroke-linejoin="round" stroke-linecap="round" shape-rendering="crispEdges" clip-path="url(#lg1784)"/>
<text x="1476" y="1805.5" font-size="54" text-anchor="start" textLength="152" lengthAdjust="spacingAndGlyphs">20AM</text>
<clipPath id="lg1866"><rect x="1312" y="1861.3" width="153" height="10"/></clipPath>
<path d="M1314.5 1866.3L1330.8 1866.3M1351.6 1866.3L1367.9 1866.3M1388.7 1866.3L1405 1866.3M1425.8 1866.3L1442.1 1866.3M1462.9 1866.3L1475 1866.3" fill="none" stroke="#0000ff" stroke-width="5" stroke-linejoin="round" stroke-linecap="round" shape-rendering="crispEdges" clip-path="url(#lg1866)"/>
<text x="1476" y="1887.1" font-size="54" text-anchor="start" textLength="152" lengthAdjust="spacingAndGlyphs">30AM</text>
<clipPath id="lg1947"><rect x="1312" y="1942.9" width="153" height="10"/></clipPath>
<path d="M1314.5 1947.9L1333.6 1947.9M1346.5 1947.9L1348.7 1947.9M1361.6 1947.9L1380.7 1947.9M1393.6 1947.9L1395.8 1947.9M1408.7 1947.9L1427.8 1947.9M1440.7 1947.9L1442.9 1947.9M1455.8 1947.9L1474.9 1947.9" fill="none" stroke="#00ffff" stroke-width="5" stroke-linejoin="round" stroke-linecap="round" shape-rendering="crispEdges" clip-path="url(#lg1947)"/>
<text x="1476" y="1968.7" font-size="54" text-anchor="start" textLength="152" lengthAdjust="spacingAndGlyphs">40AM</text>
<clipPath id="lg2029"><rect x="1312" y="2024.5" width="153" height="10"/></clipPath>
<path d="M1314.6 2029.5L1333.5 2029.5M1346.6 2029.5L1348.6 2029.5M1361.7 2029.5L1380.6 2029.5M1393.7 2029.5L1395.7 2029.5M1408.8 2029.5L1427.7 2029.5M1440.8 2029.5L1442.8 2029.5M1455.9 2029.5L1474.8 2029.5" fill="none" stroke="#ff8000" stroke-width="5.2" stroke-linejoin="round" stroke-linecap="round" shape-rendering="crispEdges" clip-path="url(#lg2029)"/>
<text x="1476" y="2050.3" font-size="54" text-anchor="start" textLength="152" lengthAdjust="spacingAndGlyphs">50AM</text>
<rect x="548.6" y="1645.5" width="655.9" height="543.0" fill="#fff"/>
<line x1="547.1" y1="1645.5" x2="1206" y2="1645.5" stroke="#000" stroke-width="3" stroke-linecap="butt" shape-rendering="crispEdges"/>
<line x1="547.1" y1="2188.5" x2="1206" y2="2188.5" stroke="#000" stroke-width="3" stroke-linecap="butt" shape-rendering="crispEdges"/>
<line x1="548.6" y1="1644" x2="548.6" y2="2190" stroke="#000" stroke-width="3" stroke-linecap="butt" shape-rendering="crispEdges"/>
<line x1="1204.5" y1="1644" x2="1204.5" y2="2190" stroke="#000" stroke-width="3" stroke-linecap="butt" shape-rendering="crispEdges"/>
<line x1="679.78" y1="2188.5" x2="679.78" y2="2199" stroke="#000" stroke-width="3" stroke-linecap="butt" shape-rendering="crispEdges"/>
<line x1="854.69" y1="2188.5" x2="854.69" y2="2199" stroke="#000" stroke-width="3" stroke-linecap="butt" shape-rendering="crispEdges"/>
<line x1="1029.59" y1="2188.5" x2="1029.59" y2="2199" stroke="#000" stroke-width="3" stroke-linecap="butt" shape-rendering="crispEdges"/>
<line x1="1204.5" y1="2188.5" x2="1204.5" y2="2199" stroke="#000" stroke-width="3" stroke-linecap="butt" shape-rendering="crispEdges"/>
<line x1="592.33" y1="2188.5" x2="592.33" y2="2194" stroke="#000" stroke-width="3" stroke-linecap="butt" shape-rendering="crispEdges"/>
<line x1="767.23" y1="2188.5" x2="767.23" y2="2194" stroke="#000" stroke-width="3" stroke-linecap="butt" shape-rendering="crispEdges"/>
<line x1="942.14" y1="2188.5" x2="942.14" y2="2194" stroke="#000" stroke-width="3" stroke-linecap="butt" shape-rendering="crispEdges"/>
<line x1="1117.05" y1="2188.5" x2="1117.05" y2="2194" stroke="#000" stroke-width="3" stroke-linecap="butt" shape-rendering="crispEdges"/>
<line x1="548.6" y1="2161.35" x2="537.1" y2="2161.35" stroke="#000" stroke-width="3" stroke-linecap="butt" shape-rendering="crispEdges"/>
<line x1="548.6" y1="2052.75" x2="537.1" y2="2052.75" stroke="#000" stroke-width="3" stroke-linecap="butt" shape-rendering="crispEdges"/>
<line x1="548.6" y1="1944.15" x2="537.1" y2="1944.15" stroke="#000" stroke-width="3" stroke-linecap="butt" shape-rendering="crispEdges"/>
<line x1="548.6" y1="1835.55" x2="537.1" y2="1835.55" stroke="#000" stroke-width="3" stroke-linecap="butt" shape-rendering="crispEdges"/>
<line x1="548.6" y1="1726.95" x2="537.1" y2="1726.95" stroke="#000" stroke-width="3" stroke-linecap="butt" shape-rendering="crispEdges"/>
<line x1="548.6" y1="2107.05" x2="542.1" y2="2107.05" stroke="#000" stroke-width="3" stroke-linecap="butt" shape-rendering="crispEdges"/>
<line x1="548.6" y1="1998.45" x2="542.1" y2="1998.45" stroke="#000" stroke-width="3" stroke-linecap="butt" shape-rendering="crispEdges"/>
<line x1="548.6" y1="1889.85" x2="542.1" y2="1889.85" stroke="#000" stroke-width="3" stroke-linecap="butt" shape-rendering="crispEdges"/>
<line x1="548.6" y1="1781.25" x2="542.1" y2="1781.25" stroke="#000" stroke-width="3" stroke-linecap="butt" shape-rendering="crispEdges"/>
<line x1="548.6" y1="1672.65" x2="542.1" y2="1672.65" stroke="#000" stroke-width="3" stroke-linecap="butt" shape-rendering="crispEdges"/>
<line x1="548.6" y1="1645.5" x2="548.6" y2="1657" stroke="#000" stroke-width="3" stroke-linecap="butt" shape-rendering="crispEdges"/>
<line x1="614.19" y1="1645.5" x2="614.19" y2="1652" stroke="#000" stroke-width="3" stroke-linecap="butt" shape-rendering="crispEdges"/>
<line x1="679.78" y1="1645.5" x2="679.78" y2="1657" stroke="#000" stroke-width="3" stroke-linecap="butt" shape-rendering="crispEdges"/>
<line x1="745.37" y1="1645.5" x2="745.37" y2="1652" stroke="#000" stroke-width="3" stroke-linecap="butt" shape-rendering="crispEdges"/>
<line x1="810.96" y1="1645.5" x2="810.96" y2="1657" stroke="#000" stroke-width="3" stroke-linecap="butt" shape-rendering="crispEdges"/>
<line x1="876.55" y1="1645.5" x2="876.55" y2="1652" stroke="#000" stroke-width="3" stroke-linecap="butt" shape-rendering="crispEdges"/>
<line x1="942.14" y1="1645.5" x2="942.14" y2="1657" stroke="#000" stroke-width="3" stroke-linecap="butt" shape-rendering="crispEdges"/>
<line x1="1007.73" y1="1645.5" x2="1007.73" y2="1652" stroke="#000" stroke-width="3" stroke-linecap="butt" shape-rendering="crispEdges"/>
<line x1="1073.32" y1="1645.5" x2="1073.32" y2="1657" stroke="#000" stroke-width="3" stroke-linecap="butt" shape-rendering="crispEdges"/>
<line x1="1138.91" y1="1645.5" x2="1138.91" y2="1652" stroke="#000" stroke-width="3" stroke-linecap="butt" shape-rendering="crispEdges"/>
<line x1="1204.5" y1="1645.5" x2="1204.5" y2="1657" stroke="#000" stroke-width="3" stroke-linecap="butt" shape-rendering="crispEdges"/>
<line x1="1204.5" y1="1645.5" x2="1193" y2="1645.5" stroke="#000" stroke-width="3" stroke-linecap="butt" shape-rendering="crispEdges"/>
<line x1="1204.5" y1="1699.8" x2="1198" y2="1699.8" stroke="#000" stroke-width="3" stroke-linecap="butt" shape-rendering="crispEdges"/>
<line x1="1204.5" y1="1754.1" x2="1193" y2="1754.1" stroke="#000" stroke-width="3" stroke-linecap="butt" shape-rendering="crispEdges"/>
<line x1="1204.5" y1="1808.4" x2="1198" y2="1808.4" stroke="#000" stroke-width="3" stroke-linecap="butt" shape-rendering="crispEdges"/>
<line x1="1204.5" y1="1862.7" x2="1193" y2="1862.7" stroke="#000" stroke-width="3" stroke-linecap="butt" shape-rendering="crispEdges"/>
<line x1="1204.5" y1="1917" x2="1198" y2="1917" stroke="#000" stroke-width="3" stroke-linecap="butt" shape-rendering="crispEdges"/>
<line x1="1204.5" y1="1971.3" x2="1193" y2="1971.3" stroke="#000" stroke-width="3" stroke-linecap="butt" shape-rendering="crispEdges"/>
<line x1="1204.5" y1="2025.6" x2="1198" y2="2025.6" stroke="#000" stroke-width="3" stroke-linecap="butt" shape-rendering="crispEdges"/>
<line x1="1204.5" y1="2079.9" x2="1193" y2="2079.9" stroke="#000" stroke-width="3" stroke-linecap="butt" shape-rendering="crispEdges"/>
<line x1="1204.5" y1="2134.2" x2="1198" y2="2134.2" stroke="#000" stroke-width="3" stroke-linecap="butt" shape-rendering="crispEdges"/>
<line x1="1204.5" y1="2188.5" x2="1193" y2="2188.5" stroke="#000" stroke-width="3" stroke-linecap="butt" shape-rendering="crispEdges"/>
<text x="531.6" y="2170.65" font-size="36" text-anchor="end">-0.02</text>
<text x="531.6" y="2062.05" font-size="36" text-anchor="end">0.00</text>
<text x="531.6" y="1953.45" font-size="36" text-anchor="end">0.02</text>
<text x="531.6" y="1844.85" font-size="36" text-anchor="end">0.04</text>
<text x="531.6" y="1736.25" font-size="36" text-anchor="end">0.06</text>
<text x="680.78" y="2231.7" font-size="36" text-anchor="middle">120</text>
<text x="855.69" y="2231.7" font-size="36" text-anchor="middle">140</text>
<text x="1030.59" y="2231.7" font-size="36" text-anchor="middle">160</text>
<text x="1205.5" y="2231.7" font-size="36" text-anchor="middle">180</text>
<text x="876.69" y="2307.1" font-size="38" text-anchor="middle" textLength="106" lengthAdjust="spacingAndGlyphs">t (min)</text>
<text transform="translate(432.9 1920.8) rotate(-90)" font-size="47" text-anchor="middle" textLength="320" lengthAdjust="spacingAndGlyphs">Heat flow (W/g)</text>
<path d="M597.57 2337.82L597.89 2337.34L598.21 2335.92L598.85 2330.46L599.32 2324.25L599.48 2316.53L600.75 2084.61L601.25 2045.71L602.12 2017.84L603.17 1998.26L603.7 1993.02L604.89 1985.1L605.74 1981.25L606.25 1979.92L606.59 1979.5L607.27 1979.52L608.13 1979.93L612.1 1983.55L617.47 1986.72L622.84 1989.43L640.08 1997.54L653.02 2003.14L663.34 2006.97L671.56 2009.72L678.21 2011.63L687.65 2013.91L710.91 2018.86L733.83 2022.94L758.49 2026.62L787 2030.17L816.21 2033.25L845.07 2035.74L876.55 2037.92L904.01 2039.5L935.14 2041.03L1034.84 2044.83L1074.72 2046.7L1117.05 2048.95" fill="none" stroke="#000" stroke-width="3.4" stroke-linejoin="round" stroke-linecap="round" shape-rendering="crispEdges" clip-path="url(#cib)"/>
<path d="M574.84 2373.12L577.78 2372.92L580.35 2372.33M586.81 2368.29L589.71 2364.89M591.81 2356.5L591.99 2350.38M592.21 2340.1L592.33 2333.91M592.5 2323.58L592.59 2317.37M592.74 2307.02L592.82 2300.81M592.96 2290.44L593.04 2284.22M593.17 2273.86L593.25 2267.63M593.38 2257.26L593.46 2251.04M593.59 2240.67L593.67 2234.45M593.8 2224.09L593.88 2217.87M594.03 2207.51L594.12 2201.3M594.28 2190.96L594.39 2184.77M594.58 2174.47L594.73 2168.32M595.09 2158.17L595.35 2152.13M595.81 2142.09L596.1 2136.08M596.62 2126.1L596.95 2120.14M597.57 2110.26L597.99 2104.38M598.86 2094.74L599.59 2089.17M602.21 2081.29L604.49 2077.28M609.63 2071.92L613.05 2069.03M619.46 2064.95L621.71 2064L624.1 2063.28M632.62 2061.31L638.06 2060.44M647.76 2059.65L653.77 2059.36M663.89 2058.97L670.04 2058.82M680.44 2058.72L686.74 2058.72M697.24 2058.72L703.54 2058.72M714.04 2058.72L720.34 2058.72M730.84 2058.72L737.14 2058.72M747.64 2058.72L753.94 2058.72M764.44 2058.72L770.74 2058.72M781.24 2058.72L787.54 2058.72M798.04 2058.72L804.34 2058.72M814.84 2058.72L821.14 2058.72M831.64 2058.72L837.94 2058.72M848.44 2058.72L854.74 2058.72M865.23 2058.72L871.52 2058.71M882 2058.68L888.28 2058.66M898.74 2058.62L905.01 2058.59M915.45 2058.53L921.71 2058.49M932.14 2058.42L938.39 2058.37M948.8 2058.28L955.04 2058.23M965.44 2058.13L971.68 2058.06M982.07 2057.95L988.3 2057.88M998.67 2057.76L1004.9 2057.68M1015.26 2057.55L1021.48 2057.47M1031.84 2057.32L1038.05 2057.24M1048.4 2057.09L1054.61 2057M1064.96 2056.84L1071.16 2056.75M1081.5 2056.58L1087.7 2056.49M1098.04 2056.32L1104.23 2056.22M1114.57 2056.05L1117.05 2056.01" fill="none" stroke="#ff0000" stroke-width="3" stroke-linejoin="round" stroke-linecap="round" shape-rendering="crispEdges" clip-path="url(#cib)"/>
<path d="M574.84 2445.88L577.63 2445.61L580.08 2444.83M585.93 2440.18L588.55 2436.5M590.98 2428.43L591.23 2422.38M591.54 2412.18L591.69 2406.04M591.92 2395.76L592.04 2389.59M592.23 2379.28L592.35 2373.09M592.52 2362.77L592.62 2356.57M592.79 2346.24L592.89 2340.03M593.05 2329.7L593.14 2323.49M593.3 2313.15L593.4 2306.94M593.56 2296.6L593.65 2290.4M593.81 2280.06L593.91 2273.85M594.07 2263.52L594.18 2257.32M594.35 2247L594.46 2240.8M594.65 2230.49L594.77 2224.31M594.99 2214.03L595.12 2207.86M595.33 2197.57L595.45 2191.4M595.65 2181.09L595.76 2174.91M595.95 2164.6L596.07 2158.41M596.26 2148.1L596.37 2141.91M596.56 2131.6L596.67 2125.42M596.86 2115.11L596.98 2108.93M597.18 2098.63L597.31 2092.45M597.53 2082.17L597.66 2076.01M597.91 2065.75L598.07 2059.61M598.37 2049.42L598.6 2043.34M599.27 2033.51L601.15 2029.1M605.03 2022.47L607.9 2019.05M614 2014.65L618.34 2012.68M625.36 2009.21L629.59 2007.13M637.03 2004.07L641.89 2002.64M651.14 2001.38L656.99 2000.93M666.92 2000.37L673.01 2000.16M683.4 2000.11L689.53 2000.29M699.44 2000.87L705.26 2001.35M714.78 2002.33L720.42 2002.99M729.75 2004.16L735.32 2004.9M744.59 2006.12L750.18 2006.83M759.56 2007.96L765.23 2008.58M774.67 2009.65L780.3 2010.31M789.67 2011.44L795.27 2012.14M804.6 2013.32L810.18 2014.03M819.49 2015.22L825.08 2015.93M834.4 2017.11L840.01 2017.81M849.36 2018.95L855 2019.62M864.42 2020.69L870.1 2021.31M879.61 2022.3L885.35 2022.86M894.92 2023.79L900.68 2024.34M910.28 2025.23L916.05 2025.76M925.69 2026.62L931.48 2027.13M941.14 2027.97L946.95 2028.46M956.64 2029.27L962.46 2029.75M972.18 2030.53L978.02 2031M987.76 2031.75L993.61 2032.2M1003.38 2032.94L1009.24 2033.37M1019.03 2034.08L1024.91 2034.5M1034.72 2035.19L1040.62 2035.59M1050.46 2036.26L1056.37 2036.64M1066.23 2037.28L1072.16 2037.65M1082.05 2038.26L1088 2038.61M1097.92 2039.19L1103.88 2039.53M1113.83 2040.09L1117.05 2040.26" fill="none" stroke="#00ff00" stroke-width="3" stroke-linejoin="round" stroke-linecap="round" shape-rendering="crispEdges" clip-path="url(#cib)"/>
<path d="M574.84 2290.04L577.81 2289.88L580.48 2289.38M587.45 2285.86L590.69 2282.79M592.79 2274.4L593 2268.3M593.26 2258.07L593.4 2251.9M593.6 2241.6L593.71 2235.41M593.88 2225.09L593.98 2218.89M594.14 2208.55L594.23 2202.34M594.39 2191.99L594.48 2185.78M594.62 2175.43L594.71 2169.22M594.86 2158.86L594.94 2152.65M595.09 2142.3L595.18 2136.08M595.33 2125.73L595.42 2119.53M595.58 2109.18L595.68 2102.98M595.84 2092.65L595.95 2086.46M596.14 2076.15L596.27 2069.97M596.5 2059.71L596.68 2053.58M597 2043.4L597.2 2037.3M597.53 2027.13L597.73 2021.04M598.08 2010.88L598.29 2004.8M598.67 1994.68L598.91 1988.62M599.35 1978.56L599.65 1972.55M600.25 1962.66L600.78 1956.89M602.8 1948.41L604.6 1943.91M608.59 1937.4L609.6 1936.25L611.79 1934.29M614.85 1926.86L615.47 1921.17M617 1913.1L617.59 1918.81M618.23 1928.68L618.61 1934.6M621.24 1940.41L624.26 1937.12M633.63 1937.11L639.02 1938.01M647.47 1940.06L652.34 1941.49M660.32 1944.01L665.1 1945.53M673.19 1947.94L678.21 1949.23M686.67 1951.27L691.63 1952.6M700.07 1954.67L705.42 1955.61M712.97 1953.63L713.92 1948.28M716.05 1951.64L716.94 1957.06M723.11 1961.39L725.55 1962.11L728.19 1962.61M737.46 1963.84L739.98 1964.46L742.29 1965.3M747.25 1970.85L748.04 1972.64L748.7 1973.43L749.39 1973.34L750.2 1972.75M757.26 1971.13L761.81 1972.88M770.02 1975.16L774.96 1976.52M783.23 1978.75L788.21 1980.07M796.54 1982.25L801.55 1983.53M809.94 1985.64L815 1986.89M823.46 1988.93L828.56 1990.12M837.1 1992.08L842.25 1993.23M850.88 1995.1L856.08 1996.2M864.81 1997.98L870.07 1999.01M878.91 2000.68L884.25 2001.63M893.23 2003.15L898.66 2004.02M907.75 2005.43L913.22 2006.26M922.35 2007.63L927.83 2008.45M936.94 2009.84L942.38 2010.7M951.4 2012.18L956.78 2013.1M965.7 2014.68L971.04 2015.65M979.94 2017.25L985.29 2018.2M994.24 2019.75L999.64 2020.64M1008.73 2022.06L1014.24 2022.85M1023.55 2024.04L1029.22 2024.66M1038.68 2025.71L1044.35 2026.34M1053.86 2027.33L1059.63 2027.85M1069.45 2028.53L1075.51 2028.78M1082.22 2025.15L1083.14 2019.78M1085.69 2024.17L1086.48 2027.6L1087.05 2029.12M1095.75 2030.92L1101.76 2031.2M1110.43 2033.04L1112.38 2037.38" fill="none" stroke="#0000ff" stroke-width="3" stroke-linejoin="round" stroke-linecap="round" shape-rendering="crispEdges" clip-path="url(#cib)"/>
<path d="M551.66 2199.77L554.93 2195.44M557.78 2191.68L557.86 2191.57M560.7 2187.81L563.98 2183.48M566.82 2179.73L566.91 2179.61M569.75 2175.85L573.18 2171.69M576.81 2168.72L576.93 2168.64M580.73 2165.83L582.59 2164.08L584.39 2161.89M586.87 2157.77L586.93 2157.64M588.94 2153.05L590.4 2148.87L590.77 2147.28M591.28 2141.19L591.29 2141M591.62 2134.72L591.92 2127.43M592.16 2121.06L592.16 2120.87M592.38 2114.48L592.61 2107.11M592.8 2100.7L592.8 2100.51M592.98 2094.09L593.19 2086.69M593.36 2080.27L593.36 2080.07M593.53 2073.64L593.73 2066.23M593.89 2059.8L593.9 2059.6M594.06 2053.17L594.24 2045.74M594.36 2039.27L594.37 2039.07M594.48 2032.59L594.61 2025.11M594.71 2018.61L594.71 2018.42M594.81 2011.91L594.92 2004.42M595.01 1997.91L595.01 1997.71M595.1 1991.2L595.2 1983.71M595.29 1977.19L595.29 1976.99M595.38 1970.48L595.48 1962.98M595.56 1956.47L595.57 1956.27M595.65 1949.76L595.76 1942.26M595.85 1935.76L595.85 1935.56M595.95 1929.06L596.07 1921.57M596.17 1915.08L596.17 1914.88M596.29 1908.39L596.43 1900.94M596.58 1894.49L596.58 1894.29M596.76 1887.87L596.99 1880.49M597.19 1874.1L597.19 1873.9M597.41 1867.51L597.66 1860.17M597.9 1853.81L597.91 1853.62M598.18 1847.29L598.54 1840.04M598.94 1833.84L598.95 1833.66M599.7 1827.8L600.91 1821.42M602.43 1816.33L602.49 1816.2M606.8 1815.92L611.64 1818.68M615.49 1821.44L615.6 1821.52M619.51 1824.22L624.15 1827.18M628.22 1829.71L628.34 1829.78M632.44 1832.29L637.16 1835.17M641.24 1837.68L641.37 1837.76M645.43 1840.29L650.07 1843.26M654.06 1845.87L654.18 1845.95M658.16 1848.56L662.75 1851.58M666.75 1854.18L666.87 1854.26M670.9 1856.82L675.61 1859.71M679.77 1862.15L679.9 1862.23M684.12 1864.61L689.01 1867.32M693.28 1869.65L693.41 1869.72M697.71 1872.02L702.69 1874.64M707.03 1876.89L707.17 1876.96M711.54 1879.19L716.59 1881.73M721 1883.92L721.13 1883.99M725.56 1886.16L730.68 1888.65M735.13 1890.79L735.27 1890.86M739.74 1892.99L744.9 1895.43M749.39 1897.54L749.52 1897.6M754.02 1899.71L759.2 1902.13M763.7 1904.22L763.84 1904.29M768.34 1906.38L773.54 1908.79M778.06 1910.87L778.19 1910.93M782.72 1913.01L787.94 1915.39M792.48 1917.45L792.61 1917.51M797.16 1919.56L802.41 1921.91M806.99 1923.94L807.13 1924M811.71 1926.01L817.01 1928.32M821.62 1930.3L821.76 1930.36M826.4 1932.33L831.75 1934.57M836.42 1936.5L836.56 1936.56M841.25 1938.47L846.68 1940.65M851.42 1942.51L851.56 1942.57M856.32 1944.41L861.83 1946.49M866.65 1948.28L866.79 1948.33M871.63 1950.09L877.23 1952.09M882.12 1953.8L882.27 1953.86M887.18 1955.55L892.85 1957.48M897.79 1959.14L897.94 1959.19M902.9 1960.83L908.62 1962.71M913.6 1964.32L913.75 1964.37M918.74 1965.98L924.5 1967.83M929.5 1969.43L929.65 1969.47M934.66 1971.07L940.42 1972.91M945.42 1974.5L945.57 1974.55M950.57 1976.16L956.31 1978.02M961.29 1979.64L961.44 1979.69M966.42 1981.3L972.16 1983.16M977.16 1984.77L977.31 1984.82M982.31 1986.41L988.09 1988.23M993.13 1989.8L993.28 1989.84M998.34 1991.38L1004.2 1993.12M1009.33 1994.6L1009.48 1994.64M1014.64 1996.09L1020.63 1997.7M1025.88 1999.05L1026.04 1999.09M1031.33 2000.39L1037.45 2001.87M1042.78 2003.14L1042.94 2003.18M1048.29 2004.43L1054.48 2005.85M1059.87 2007.06L1060.03 2007.09M1065.45 2008.28L1071.71 2009.61M1077.18 2010.75L1077.34 2010.78M1082.84 2011.89L1089.2 2013.13M1094.75 2014.18L1094.92 2014.21M1100.5 2015.22L1106.98 2016.35M1112.63 2017.29L1112.81 2017.32" fill="none" stroke="#00ffff" stroke-width="3" stroke-linejoin="round" stroke-linecap="round" shape-rendering="crispEdges" clip-path="url(#cib)"/>
<path d="M548.6 2155.38L551.23 2150.41M553.5 2146.08L553.57 2145.95M555.82 2141.59L558.39 2136.56M560.6 2132.18L560.67 2132.05M562.87 2127.65L565.4 2122.57M567.58 2118.15L567.64 2118.02M569.81 2113.59L572.3 2108.48M574.46 2104.03L574.52 2103.9M577.08 2099.86L578.58 2097.59L579.71 2094.89M581.01 2089.59L581.03 2089.41M581.33 2083.11L581.53 2075.7M581.67 2069.24L581.67 2069.05M581.79 2062.57L581.92 2055.1M582.03 2048.6L582.03 2048.41M582.13 2041.91L582.24 2034.42M582.33 2027.91L582.34 2027.71M582.43 2021.2L582.53 2013.71M582.62 2007.2L582.62 2007M582.71 2000.49L582.82 1992.99M582.91 1986.48L582.91 1986.29M583 1979.78L583.11 1972.29M583.21 1965.79L583.21 1965.59M583.32 1959.1L583.44 1951.62M583.56 1945.14L583.57 1944.94M583.69 1938.47L583.83 1931.01M583.95 1924.53L583.95 1924.33M584.07 1917.85L584.2 1910.38M584.31 1903.89L584.32 1903.7M584.43 1897.21L584.56 1889.74M584.67 1883.25L584.68 1883.05M584.79 1876.56L584.92 1869.09M585.03 1862.61L585.04 1862.41M585.15 1855.93L585.29 1848.46M585.41 1841.98L585.41 1841.79M585.54 1835.31L585.68 1827.86M585.82 1821.4L585.82 1821.2M585.97 1814.74L586.14 1807.32M586.31 1800.89L586.31 1800.69M586.5 1794.28L586.77 1786.95M587.12 1780.7L587.14 1780.51M587.63 1774.4L588.23 1767.4M588.79 1761.37L588.81 1761.19M589.43 1755.21L590.25 1748.42M591.09 1742.67L591.12 1742.49M592.24 1737.01L593.03 1734.63L593.73 1733.6L594.6 1733.5L595.89 1733.86M600.24 1736.11L600.37 1736.18M604.46 1738.69L608.88 1741.88M612.61 1744.75L612.72 1744.84M616.46 1747.69L620.9 1750.86M624.77 1753.59L624.89 1753.67M628.76 1756.4L633.22 1759.54M637.09 1762.26L637.21 1762.35M641.09 1765.07L645.55 1768.2M649.44 1770.91L649.56 1770.99M653.46 1773.69L657.96 1776.79M661.87 1779.48L661.99 1779.57M665.89 1782.26L670.37 1785.39M674.24 1788.12L674.35 1788.2M678.2 1790.96L682.59 1794.17M686.37 1796.99L686.48 1797.07M690.24 1799.91L694.54 1803.21M698.26 1806.09L698.37 1806.18M702.07 1809.08L706.32 1812.43M710 1815.35L710.11 1815.44M713.79 1818.37L718.01 1821.74M721.68 1824.67L721.79 1824.76M725.47 1827.69L729.7 1831.06M733.38 1833.97L733.49 1834.06M737.19 1836.97L741.46 1840.29M745.19 1843.17L745.3 1843.26M749.05 1846.11L753.39 1849.37M757.18 1852.17L757.3 1852.26M761.13 1855.03L765.56 1858.19M769.42 1860.93L769.54 1861.02M773.4 1863.76L777.85 1866.9M781.73 1869.63L781.85 1869.71M785.73 1872.43L790.21 1875.55M794.11 1878.25L794.23 1878.33M798.14 1881.02L802.65 1884.1M806.59 1886.77L806.71 1886.85M810.65 1889.5L815.21 1892.54M819.19 1895.16L819.31 1895.24M823.31 1897.85L827.93 1900.83M831.96 1903.39L832.08 1903.47M836.14 1906.02L840.83 1908.93M844.93 1911.43L845.05 1911.5M849.17 1913.98L853.95 1916.8M858.13 1919.23L858.26 1919.3M862.46 1921.69L867.33 1924.42M871.59 1926.77L871.72 1926.84M875.99 1929.16L880.95 1931.81M885.27 1934.09L885.4 1934.16M889.74 1936.42L894.76 1938.99M899.14 1941.21L899.28 1941.28M903.67 1943.48L908.76 1945.99M913.2 1948.16L913.33 1948.22M917.78 1950.37L922.92 1952.83M927.4 1954.95L927.54 1955.02M932.03 1957.12L937.22 1959.54M941.73 1961.62L941.87 1961.68M946.39 1963.76L951.58 1966.17M956.08 1968.27L956.22 1968.33M960.72 1970.44L965.9 1972.86M970.4 1974.95L970.54 1975.02M975.05 1977.1L980.27 1979.48M984.83 1981.53L984.97 1981.59M989.55 1983.6L994.87 1985.88M999.54 1987.82L999.68 1987.88M1004.39 1989.76L1009.88 1991.87M1014.72 1993.63L1014.87 1993.69M1019.78 1995.38L1025.54 1997.22M1030.63 1998.72L1030.79 1998.77M1035.91 2000.25L1041.83 2001.93M1047 2003.36L1047.15 2003.4M1052.35 2004.81L1058.37 2006.38M1063.64 2007.72L1063.8 2007.76M1069.1 2009.05L1075.26 2010.49M1080.66 2011.69L1080.83 2011.73M1086.28 2012.88L1092.63 2014.13M1098.21 2015.15L1098.38 2015.18M1104.02 2016.13L1110.62 2017.14M1116.43 2017.92L1116.61 2017.94" fill="none" stroke="#ff8000" stroke-width="3" stroke-linejoin="round" stroke-linecap="round" shape-rendering="crispEdges" clip-path="url(#cib)"/>
<text x="21.5" y="3009.9" font-size="94" text-anchor="start" textLength="99" lengthAdjust="spacingAndGlyphs">(c)</text>
<line x1="277.2" y1="2987" x2="1678.3" y2="2987" stroke="#000" stroke-width="4.6" stroke-linecap="butt" shape-rendering="crispEdges"/>
<line x1="277.2" y1="4011.5" x2="1678.3" y2="4011.5" stroke="#000" stroke-width="4.6" stroke-linecap="butt" shape-rendering="crispEdges"/>
<line x1="279.5" y1="2984.7" x2="279.5" y2="4013.8" stroke="#000" stroke-width="4.6" stroke-linecap="butt" shape-rendering="crispEdges"/>
<line x1="1676" y1="2984.7" x2="1676" y2="4013.8" stroke="#000" stroke-width="4.6" stroke-linecap="butt" shape-rendering="crispEdges"/>
<line x1="279.5" y1="4011.5" x2="279.5" y2="4034" stroke="#000" stroke-width="4.6" stroke-linecap="butt" shape-rendering="crispEdges"/>
<line x1="434.67" y1="4011.5" x2="434.67" y2="4034" stroke="#000" stroke-width="4.6" stroke-linecap="butt" shape-rendering="crispEdges"/>
<line x1="589.83" y1="4011.5" x2="589.83" y2="4034" stroke="#000" stroke-width="4.6" stroke-linecap="butt" shape-rendering="crispEdges"/>
<line x1="745" y1="4011.5" x2="745" y2="4034" stroke="#000" stroke-width="4.6" stroke-linecap="butt" shape-rendering="crispEdges"/>
<line x1="900.17" y1="4011.5" x2="900.17" y2="4034" stroke="#000" stroke-width="4.6" stroke-linecap="butt" shape-rendering="crispEdges"/>
<line x1="1055.33" y1="4011.5" x2="1055.33" y2="4034" stroke="#000" stroke-width="4.6" stroke-linecap="butt" shape-rendering="crispEdges"/>
<line x1="1210.5" y1="4011.5" x2="1210.5" y2="4034" stroke="#000" stroke-width="4.6" stroke-linecap="butt" shape-rendering="crispEdges"/>
<line x1="1365.67" y1="4011.5" x2="1365.67" y2="4034" stroke="#000" stroke-width="4.6" stroke-linecap="butt" shape-rendering="crispEdges"/>
<line x1="1520.83" y1="4011.5" x2="1520.83" y2="4034" stroke="#000" stroke-width="4.6" stroke-linecap="butt" shape-rendering="crispEdges"/>
<line x1="1676" y1="4011.5" x2="1676" y2="4034" stroke="#000" stroke-width="4.6" stroke-linecap="butt" shape-rendering="crispEdges"/>
<line x1="357.08" y1="4011.5" x2="357.08" y2="4023.5" stroke="#000" stroke-width="4.6" stroke-linecap="butt" shape-rendering="crispEdges"/>
<line x1="512.25" y1="4011.5" x2="512.25" y2="4023.5" stroke="#000" stroke-width="4.6" stroke-linecap="butt" shape-rendering="crispEdges"/>
<line x1="667.42" y1="4011.5" x2="667.42" y2="4023.5" stroke="#000" stroke-width="4.6" stroke-linecap="butt" shape-rendering="crispEdges"/>
<line x1="822.58" y1="4011.5" x2="822.58" y2="4023.5" stroke="#000" stroke-width="4.6" stroke-linecap="butt" shape-rendering="crispEdges"/>
<line x1="977.75" y1="4011.5" x2="977.75" y2="4023.5" stroke="#000" stroke-width="4.6" stroke-linecap="butt" shape-rendering="crispEdges"/>
<line x1="1132.92" y1="4011.5" x2="1132.92" y2="4023.5" stroke="#000" stroke-width="4.6" stroke-linecap="butt" shape-rendering="crispEdges"/>
<line x1="1288.08" y1="4011.5" x2="1288.08" y2="4023.5" stroke="#000" stroke-width="4.6" stroke-linecap="butt" shape-rendering="crispEdges"/>
<line x1="1443.25" y1="4011.5" x2="1443.25" y2="4023.5" stroke="#000" stroke-width="4.6" stroke-linecap="butt" shape-rendering="crispEdges"/>
<line x1="1598.42" y1="4011.5" x2="1598.42" y2="4023.5" stroke="#000" stroke-width="4.6" stroke-linecap="butt" shape-rendering="crispEdges"/>
<line x1="279.5" y1="4011.5" x2="256" y2="4011.5" stroke="#000" stroke-width="4.6" stroke-linecap="butt" shape-rendering="crispEdges"/>
<line x1="279.5" y1="3806.6" x2="256" y2="3806.6" stroke="#000" stroke-width="4.6" stroke-linecap="butt" shape-rendering="crispEdges"/>
<line x1="279.5" y1="3601.7" x2="256" y2="3601.7" stroke="#000" stroke-width="4.6" stroke-linecap="butt" shape-rendering="crispEdges"/>
<line x1="279.5" y1="3396.8" x2="256" y2="3396.8" stroke="#000" stroke-width="4.6" stroke-linecap="butt" shape-rendering="crispEdges"/>
<line x1="279.5" y1="3191.9" x2="256" y2="3191.9" stroke="#000" stroke-width="4.6" stroke-linecap="butt" shape-rendering="crispEdges"/>
<line x1="279.5" y1="2987" x2="256" y2="2987" stroke="#000" stroke-width="4.6" stroke-linecap="butt" shape-rendering="crispEdges"/>
<line x1="279.5" y1="3909.05" x2="266.5" y2="3909.05" stroke="#000" stroke-width="4.6" stroke-linecap="butt" shape-rendering="crispEdges"/>
<line x1="279.5" y1="3704.15" x2="266.5" y2="3704.15" stroke="#000" stroke-width="4.6" stroke-linecap="butt" shape-rendering="crispEdges"/>
<line x1="279.5" y1="3499.25" x2="266.5" y2="3499.25" stroke="#000" stroke-width="4.6" stroke-linecap="butt" shape-rendering="crispEdges"/>
<line x1="279.5" y1="3294.35" x2="266.5" y2="3294.35" stroke="#000" stroke-width="4.6" stroke-linecap="butt" shape-rendering="crispEdges"/>
<line x1="279.5" y1="3089.45" x2="266.5" y2="3089.45" stroke="#000" stroke-width="4.6" stroke-linecap="butt" shape-rendering="crispEdges"/>
<line x1="279.5" y1="2987" x2="279.5" y2="3010.5" stroke="#000" stroke-width="4.6" stroke-linecap="butt" shape-rendering="crispEdges"/>
<line x1="419.15" y1="2987" x2="419.15" y2="3000" stroke="#000" stroke-width="4.6" stroke-linecap="butt" shape-rendering="crispEdges"/>
<line x1="558.8" y1="2987" x2="558.8" y2="3010.5" stroke="#000" stroke-width="4.6" stroke-linecap="butt" shape-rendering="crispEdges"/>
<line x1="698.45" y1="2987" x2="698.45" y2="3000" stroke="#000" stroke-width="4.6" stroke-linecap="butt" shape-rendering="crispEdges"/>
<line x1="838.1" y1="2987" x2="838.1" y2="3010.5" stroke="#000" stroke-width="4.6" stroke-linecap="butt" shape-rendering="crispEdges"/>
<line x1="977.75" y1="2987" x2="977.75" y2="3000" stroke="#000" stroke-width="4.6" stroke-linecap="butt" shape-rendering="crispEdges"/>
<line x1="1117.4" y1="2987" x2="1117.4" y2="3010.5" stroke="#000" stroke-width="4.6" stroke-linecap="butt" shape-rendering="crispEdges"/>
<line x1="1257.05" y1="2987" x2="1257.05" y2="3000" stroke="#000" stroke-width="4.6" stroke-linecap="butt" shape-rendering="crispEdges"/>
<line x1="1396.7" y1="2987" x2="1396.7" y2="3010.5" stroke="#000" stroke-width="4.6" stroke-linecap="butt" shape-rendering="crispEdges"/>
<line x1="1536.35" y1="2987" x2="1536.35" y2="3000" stroke="#000" stroke-width="4.6" stroke-linecap="butt" shape-rendering="crispEdges"/>
<line x1="1676" y1="2987" x2="1676" y2="3010.5" stroke="#000" stroke-width="4.6" stroke-linecap="butt" shape-rendering="crispEdges"/>
<line x1="1676" y1="2987" x2="1652.5" y2="2987" stroke="#000" stroke-width="4.6" stroke-linecap="butt" shape-rendering="crispEdges"/>
<line x1="1676" y1="3089.45" x2="1663" y2="3089.45" stroke="#000" stroke-width="4.6" stroke-linecap="butt" shape-rendering="crispEdges"/>
<line x1="1676" y1="3191.9" x2="1652.5" y2="3191.9" stroke="#000" stroke-width="4.6" stroke-linecap="butt" shape-rendering="crispEdges"/>
<line x1="1676" y1="3294.35" x2="1663" y2="3294.35" stroke="#000" stroke-width="4.6" stroke-linecap="butt" shape-rendering="crispEdges"/>
<line x1="1676" y1="3396.8" x2="1652.5" y2="3396.8" stroke="#000" stroke-width="4.6" stroke-linecap="butt" shape-rendering="crispEdges"/>
<line x1="1676" y1="3499.25" x2="1663" y2="3499.25" stroke="#000" stroke-width="4.6" stroke-linecap="butt" shape-rendering="crispEdges"/>
<line x1="1676" y1="3601.7" x2="1652.5" y2="3601.7" stroke="#000" stroke-width="4.6" stroke-linecap="butt" shape-rendering="crispEdges"/>
<line x1="1676" y1="3704.15" x2="1663" y2="3704.15" stroke="#000" stroke-width="4.6" stroke-linecap="butt" shape-rendering="crispEdges"/>
<line x1="1676" y1="3806.6" x2="1652.5" y2="3806.6" stroke="#000" stroke-width="4.6" stroke-linecap="butt" shape-rendering="crispEdges"/>
<line x1="1676" y1="3909.05" x2="1663" y2="3909.05" stroke="#000" stroke-width="4.6" stroke-linecap="butt" shape-rendering="crispEdges"/>
<line x1="1676" y1="4011.5" x2="1652.5" y2="4011.5" stroke="#000" stroke-width="4.6" stroke-linecap="butt" shape-rendering="crispEdges"/>
<text x="244.5" y="4021.9" font-size="46" text-anchor="end">90</text>
<text x="244.5" y="3817" font-size="46" text-anchor="end">100</text>
<text x="244.5" y="3612.1" font-size="46" text-anchor="end">110</text>
<text x="244.5" y="3407.2" font-size="46" text-anchor="end">120</text>
<text x="244.5" y="3202.3" font-size="46" text-anchor="end">130</text>
<text x="244.5" y="2997.4" font-size="46" text-anchor="end">140</text>
<text x="279.5" y="4079" font-size="46" text-anchor="middle">0</text>
<text x="434.67" y="4079" font-size="46" text-anchor="middle">20</text>
<text x="589.83" y="4079" font-size="46" text-anchor="middle">40</text>
<text x="745" y="4079" font-size="46" text-anchor="middle">60</text>
<text x="900.17" y="4079" font-size="46" text-anchor="middle">80</text>
<text x="1055.33" y="4079" font-size="46" text-anchor="middle">100</text>
<text x="1210.5" y="4079" font-size="46" text-anchor="middle">120</text>
<text x="1365.67" y="4079" font-size="46" text-anchor="middle">140</text>
<text x="1520.83" y="4079" font-size="46" text-anchor="middle">160</text>
<text x="1676" y="4079" font-size="46" text-anchor="middle">180</text>
<text x="977.75" y="4190" font-size="59" text-anchor="middle" textLength="165" lengthAdjust="spacingAndGlyphs">t (min)</text>
<text transform="translate(81 3503) rotate(-90)" font-size="58" text-anchor="middle" textLength="429" lengthAdjust="spacingAndGlyphs">Temperature (°C)</text>
<path d="M279.5 3806.1L977.75 3806.1L1132.92 3191.4L1598.42 3191.4" fill="none" stroke="#000" stroke-width="2.2" stroke-linejoin="round" stroke-linecap="butt" shape-rendering="crispEdges"/>
</svg>
</body></html>
